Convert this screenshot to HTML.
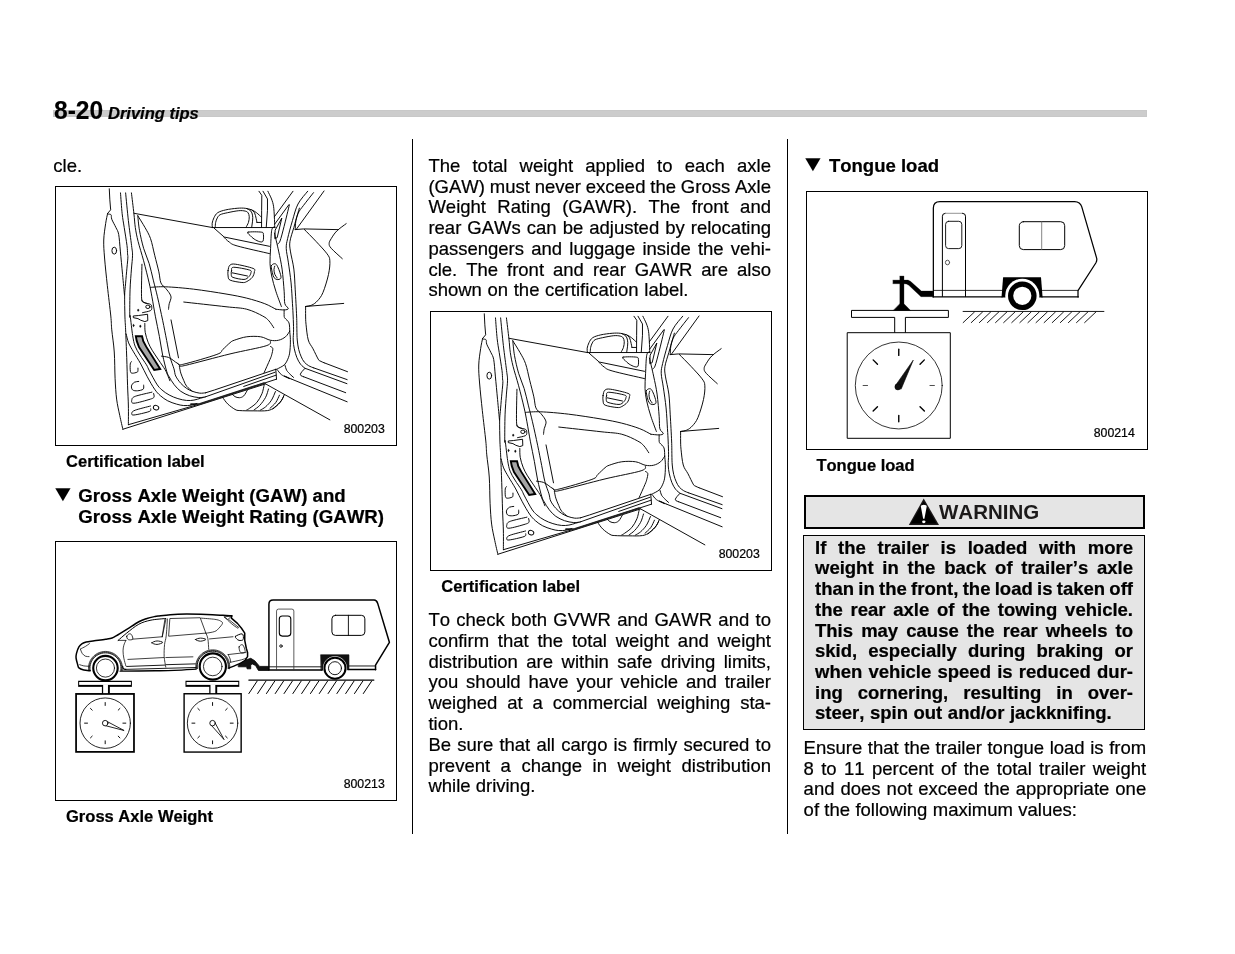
<!DOCTYPE html>
<html lang="en">
<head>
<meta charset="utf-8">
<title>8-20 Driving tips</title>
<style>
html,body{margin:0;padding:0;background:#fff;}
body{width:1235px;height:954px;position:relative;overflow:hidden;font-family:"Liberation Sans",sans-serif;color:#000;}
.t{position:absolute;white-space:nowrap;margin:0;padding:0;font-kerning:none;-webkit-text-stroke:0.22px #000;}
#pg{position:absolute;left:0;top:0;width:1235px;height:954px;overflow:hidden;will-change:transform;transform:translateZ(0);}
.fig{position:absolute;overflow:visible;}
.bar{position:absolute;left:53px;top:110px;width:1094px;height:7px;background:#ccc;box-sizing:border-box;border:1px solid #c8c8c8;}
.vr{position:absolute;top:139px;width:1px;height:695px;background:#000;}
.box{position:absolute;box-sizing:border-box;background:#e6e6e6;}
</style>
</head>
<body>
<div id="pg">
<div class="bar"></div>
<div class="t" style="left:53.50px;top:96.34px;font-size:26px;line-height:29.9px;height:29.9px;font-weight:bold;transform:scaleX(0.945);transform-origin:0 0;-webkit-text-stroke:0.15px #000;">8-20</div>
<div class="t" style="left:108.00px;top:104.00px;font-size:16.5px;line-height:18.97px;height:18.97px;font-weight:bold;font-style:italic;">Driving tips</div>
<div class="vr" style="left:412px"></div>
<div class="vr" style="left:787px"></div>
<div class="t" style="left:53.30px;top:154.75px;font-size:18.5px;line-height:21.27px;height:21.27px;">cle.</div>
<svg class="fig" style="left:55px;top:186px" width="342" height="260" viewBox="0 0 342 260" stroke-linecap="round" stroke-linejoin="round">
<path d="M54.28 2.77L54.83 13.85L55.66 23.82L52.62 27.42" fill="none" stroke="#000" stroke-width="0.95" />
<path d="M52.62 27.42C52.29 29.08 51.32 32.95 50.68 37.38C50.03 41.82 48.92 48.23 48.74 54.00C48.55 59.77 48.97 64.38 49.57 72.00C50.17 79.62 51.30 90.02 52.34 99.69C53.38 109.36 55.06 122.66 55.80 130.02C56.54 137.37 56.19 137.85 56.77 143.85C57.35 149.84 58.71 157.92 59.26 166.00C59.82 174.08 59.70 184.46 60.09 192.31C60.48 200.15 60.83 206.85 61.62 213.08C62.40 219.31 63.76 224.66 64.80 229.69C65.84 234.72 67.34 241.00 67.85 243.26" fill="none" stroke="#000" stroke-width="0.95" />
<path d="M67.85 243.26L210.59 197.89" fill="none" stroke="#000" stroke-width="0.95" />
<path d="M210.59 197.89L274.85 233.85" fill="none" stroke="#000" stroke-width="0.95" />
<path d="M53.03 28.11C53.54 28.22 55.45 27.95 56.08 28.80C56.70 29.65 55.96 31.11 56.77 33.23C57.58 35.35 59.77 39.00 60.92 41.54C62.08 44.08 62.95 44.54 63.69 48.46C64.43 52.38 64.71 58.38 65.35 65.08C66.00 71.77 66.88 81.23 67.57 88.62C68.26 96.00 69.18 105.92 69.51 109.38" fill="none" stroke="#000" stroke-width="0.95" />
<path d="M65.49 6.92C65.77 10.38 66.53 21.92 67.15 27.69C67.78 33.46 68.42 36.23 69.23 41.54C70.04 46.85 71.45 55.15 72.00 59.54C72.55 63.92 72.42 65.75 72.55 67.85C72.69 69.95 72.99 69.14 72.83 72.14C72.67 75.14 72.00 81.14 71.58 85.85C71.17 90.55 70.66 96.46 70.34 100.38C70.02 104.31 69.72 104.45 69.65 109.38C69.58 114.32 69.76 124.27 69.92 130.02C70.08 135.76 70.32 136.93 70.62 143.85C70.92 150.77 71.40 162.31 71.72 171.54C72.05 180.77 72.28 191.15 72.55 199.23C72.83 207.31 73.25 213.42 73.38 220.00C73.52 226.58 73.38 235.58 73.38 238.69" fill="none" stroke="#000" stroke-width="0.95" />
<path d="M73.38 238.69L145.00 217.93L209.13 197.16L221.52 193.15" fill="none" stroke="#000" stroke-width="0.95" />
<path d="M136.01 218.16L145.00 217.93L209.13 197.16" fill="none" stroke="#222" stroke-width="1.80" />
<path d="M70.62 6.92C71.08 11.54 72.39 25.85 73.38 34.62C74.38 43.38 75.88 53.77 76.57 59.54C77.26 65.31 77.56 65.31 77.54 69.23C77.52 73.15 76.85 77.31 76.43 83.08C76.02 88.85 75.32 96.02 75.05 103.85C74.77 111.67 74.74 125.62 74.77 130.02C74.80 134.41 74.76 126.93 75.24 130.19C75.73 133.46 76.86 144.63 77.67 149.63C78.48 154.62 78.89 156.91 80.10 160.15C81.32 163.39 83.07 165.96 84.96 169.06C86.85 172.16 89.85 176.13 91.44 178.78C93.02 181.42 92.75 181.72 94.47 184.93C96.19 188.14 99.70 194.89 101.76 198.05C103.83 201.21 104.80 202.06 106.86 203.88C108.93 205.70 111.48 207.52 114.15 208.98C116.82 210.44 119.98 211.71 122.90 212.62C125.81 213.54 128.97 214.20 131.64 214.45C134.31 214.69 136.62 214.45 138.93 214.08C141.24 213.72 143.54 212.81 145.49 212.26C147.43 211.71 149.74 211.05 150.59 210.80" fill="none" stroke="#000" stroke-width="0.95" />
<path d="M150.59 210.80L220.06 186.23" fill="none" stroke="#000" stroke-width="0.95" />
<path d="M71.19 148.01C71.60 149.49 72.41 153.95 73.62 156.91C74.84 159.88 76.46 162.31 78.48 165.82C80.51 169.33 83.47 173.81 85.77 177.97C88.07 182.12 89.99 186.56 92.29 190.76C94.59 194.96 97.39 199.99 99.58 203.15C101.76 206.31 103.22 207.77 105.41 209.71C107.59 211.65 110.02 213.41 112.69 214.81C115.36 216.21 118.77 217.30 121.44 218.09C124.11 218.88 126.30 219.37 128.73 219.55C131.15 219.73 133.83 219.51 136.01 219.18C138.20 218.85 140.87 217.85 141.84 217.58" fill="none" stroke="#000" stroke-width="0.95" />
<path d="M89.82 137.48C89.89 138.97 89.68 143.28 90.22 146.39C90.76 149.49 91.91 153.14 93.06 156.11C94.20 159.07 95.35 161.23 97.11 164.20C98.86 167.17 101.42 170.68 103.58 173.92C105.74 177.16 108.54 181.07 110.06 183.64C111.58 186.20 111.89 187.45 112.69 189.30C113.50 191.16 114.51 193.86 114.88 194.77" fill="none" stroke="#000" stroke-width="0.95" />
<path d="M76.43 6.92C76.85 10.38 78.28 21.92 78.92 27.69C79.57 33.46 79.62 36.92 80.31 41.54C81.00 46.15 81.69 49.85 83.08 55.38C84.46 60.92 86.77 67.85 88.62 74.77C90.46 81.69 92.77 90.92 94.15 96.92C95.54 102.92 95.89 105.22 96.92 110.77C97.96 116.31 99.10 123.58 100.34 130.19C101.59 136.81 103.18 143.96 104.39 150.44C105.61 156.91 106.42 163.26 107.63 169.06C108.85 174.86 110.59 181.64 111.68 185.26C112.77 188.87 112.89 188.51 114.15 190.76C115.41 193.02 117.31 196.35 119.25 198.78C121.19 201.21 123.26 203.51 125.81 205.34C128.36 207.16 131.64 208.68 134.56 209.71C137.47 210.74 140.87 211.29 143.30 211.53C145.73 211.77 148.16 211.23 149.13 211.17" fill="none" stroke="#000" stroke-width="0.95" />
<path d="M82.80 29.77C83.08 32.19 83.49 38.88 84.46 44.31C85.43 49.73 87.00 56.77 88.62 62.31C90.23 67.85 92.54 72.23 94.15 77.54C95.77 82.85 96.92 88.62 98.31 94.15C99.69 99.69 100.91 104.09 102.46 110.77C104.02 117.45 106.10 126.96 107.63 134.24C109.17 141.53 110.47 148.41 111.68 154.49C112.89 160.56 113.70 165.96 114.92 170.68C116.13 175.40 118.00 179.60 118.97 182.83C119.93 186.05 119.57 187.62 120.71 190.03C121.85 192.45 123.99 195.26 125.81 197.32C127.63 199.39 129.70 201.09 131.64 202.42C133.58 203.76 135.28 204.55 137.47 205.34C139.66 206.13 142.57 206.92 144.76 207.16C146.94 207.40 149.62 206.85 150.59 206.79" fill="none" stroke="#000" stroke-width="0.95" />
<path d="M150.59 206.79L159.58 203.94L220.79 183.31" fill="none" stroke="#000" stroke-width="0.95" />
<path d="M82.80 29.77C84.00 31.73 87.88 37.73 90.00 41.54C92.12 45.35 93.92 48.00 95.54 52.62C97.15 57.23 98.31 63.69 99.69 69.23C101.08 74.77 102.81 81.23 103.85 85.85C104.88 90.46 104.77 94.15 105.92 96.92C107.08 99.69 109.27 100.62 110.77 102.46C112.27 104.31 114.05 106.38 114.92 108.00C115.80 109.62 116.15 110.54 116.03 112.15C115.92 113.77 114.65 115.85 114.23 117.69C113.82 119.54 113.65 122.31 113.54 123.23" fill="none" stroke="#000" stroke-width="0.95" />
<path d="M78.92 27.28L157.41 41.54" fill="none" stroke="#000" stroke-width="0.95" />
<path d="M157.41 41.30C157.37 40.62 156.90 38.87 157.17 37.25C157.44 35.63 158.11 33.33 159.03 31.58C159.95 29.82 160.72 28.00 162.67 26.72C164.63 25.44 167.53 24.63 170.77 23.89C174.01 23.14 178.87 22.54 182.11 22.27C185.34 22.00 187.77 22.00 190.20 22.27C192.63 22.54 194.79 23.14 196.68 23.89C198.57 24.63 199.92 25.51 201.54 26.72C203.16 27.94 205.59 30.43 206.40 31.17" fill="none" stroke="#000" stroke-width="0.95" />
<path d="M160.24 41.30C160.31 40.49 160.31 37.99 160.65 36.44C160.99 34.89 161.52 33.27 162.27 31.98C163.01 30.70 163.41 29.62 165.10 28.74C166.79 27.87 169.28 27.40 172.39 26.72C175.49 26.05 180.76 24.97 183.72 24.70C186.69 24.43 188.65 24.76 190.20 25.10C191.75 25.44 192.36 25.78 193.04 26.72C193.71 27.67 194.18 29.15 194.25 30.77C194.32 32.39 193.98 34.68 193.44 36.44C192.90 38.19 191.42 40.49 191.01 41.30" fill="none" stroke="#000" stroke-width="0.95" />
<path d="M191.82 22.67C192.50 23.08 194.93 24.02 195.87 25.10C196.82 26.18 197.19 27.67 197.49 29.15C197.79 30.63 197.79 31.98 197.65 34.01C197.52 36.03 196.84 40.08 196.68 41.30" fill="none" stroke="#000" stroke-width="0.95" />
<path d="M196.68 23.89C197.15 24.36 198.77 25.30 199.51 26.72C200.26 28.14 200.73 30.77 201.13 32.39C201.54 34.01 201.81 35.76 201.94 36.44" fill="none" stroke="#000" stroke-width="0.95" />
<path d="M201.94 36.44L206.40 36.44" fill="none" stroke="#000" stroke-width="0.95" />
<path d="M157.41 41.54L220.16 41.54" fill="none" stroke="#000" stroke-width="0.95" />
<path d="M159.03 42.11L169.15 51.01L214.49 60.32" fill="none" stroke="#000" stroke-width="0.95" />
<path d="M169.15 51.42C169.96 52.16 171.85 54.45 174.01 55.87C176.17 57.29 175.36 57.96 182.11 59.92C188.85 61.88 209.10 66.33 214.49 67.61" fill="none" stroke="#000" stroke-width="0.95" />
<path d="M193.04 46.15C194.93 45.61 203.83 45.75 206.40 46.15C208.96 46.56 208.15 47.10 208.42 48.58C208.69 50.07 208.62 53.87 208.02 55.06C207.41 56.25 206.26 56.05 204.78 55.71C203.29 55.37 200.73 54.09 199.11 53.04C197.49 51.98 196.07 50.54 195.06 49.39C194.05 48.25 191.15 46.69 193.04 46.15Z" fill="none" stroke="#000" stroke-width="0.95" />
<path d="M173.08 84.46C173.38 82.66 173.61 80.24 174.88 79.20C176.15 78.16 176.84 77.70 180.69 78.23C184.55 78.76 194.88 81.12 198.00 82.38C201.12 83.65 199.50 84.35 199.38 85.85C199.27 87.35 198.58 89.77 197.31 91.38C196.04 93.00 193.50 94.68 191.77 95.54C190.04 96.39 189.69 96.74 186.92 96.51C184.15 96.28 177.46 95.24 175.15 94.15C172.85 93.07 173.42 91.62 173.08 90.00C172.73 88.38 172.78 86.26 173.08 84.46Z" fill="none" stroke="#000" stroke-width="0.95" />
<path d="M176.54 84.74C176.93 83.52 175.62 81.39 178.62 81.28C181.62 81.16 191.65 83.12 194.54 84.05C197.42 84.97 196.04 85.71 195.92 86.82C195.81 87.92 195.00 89.58 193.85 90.69C192.69 91.80 191.65 93.35 189.00 93.46C186.35 93.58 180.05 92.19 177.92 91.38C175.80 90.58 176.49 89.72 176.26 88.62C176.03 87.51 176.15 85.96 176.54 84.74Z" fill="none" stroke="#000" stroke-width="0.95" />
<path d="M177.23 86.82L192.46 90.00" fill="none" stroke="#000" stroke-width="0.95" />
<path d="M203.97 5.26L206.80 9.31L206.64 24.29L206.56 41.30" fill="none" stroke="#000" stroke-width="0.95" />
<path d="M208.02 5.26L212.47 12.96L212.47 24.29L211.26 41.30" fill="none" stroke="#000" stroke-width="0.95" />
<path d="M212.87 5.26C213.48 6.55 215.57 10.46 216.52 12.96C217.46 15.45 218.07 17.27 218.54 20.24C219.01 23.21 219.15 27.26 219.35 30.77C219.55 34.28 219.69 39.54 219.76 41.30" fill="none" stroke="#000" stroke-width="0.95" />
<path d="M237.98 5.26L219.35 30.77" fill="none" stroke="#000" stroke-width="0.95" />
<path d="M233.93 18.62L219.76 38.06" fill="none" stroke="#000" stroke-width="0.95" />
<path d="M234.33 19.03C233.45 22.60 230.62 34.48 229.07 40.49C227.52 46.49 226.10 52.16 225.02 55.06C223.94 57.96 223.00 57.42 222.59 57.89" fill="none" stroke="#000" stroke-width="0.95" />
<path d="M226.64 32.39L220.16 44.13L219.76 52.63L221.78 51.82Z" fill="none" stroke="#000" stroke-width="0.95" />
<path d="M219.46 40.85C219.00 41.42 217.34 40.73 216.69 44.31C216.05 47.88 215.86 56.77 215.58 62.31C215.31 67.85 214.85 72.92 215.03 77.54C215.22 82.15 215.72 85.38 216.69 90.00C217.66 94.62 219.23 100.15 220.85 105.23C222.46 110.31 225.46 117.92 226.38 120.46" fill="none" stroke="#000" stroke-width="0.95" />
<path d="M219.46 47.08C220.15 50.08 222.35 59.08 223.62 65.08C224.88 71.08 226.15 76.38 227.08 83.08C228.00 89.77 228.69 99.46 229.15 105.23C229.62 111.00 229.15 114.81 229.85 117.69C230.54 120.58 233.42 121.50 233.31 122.54C233.19 123.58 231.23 123.81 229.15 123.92C227.08 124.04 222.23 123.35 220.85 123.23" fill="none" stroke="#000" stroke-width="0.95" />
<path d="M95.54 101.35C98.08 101.26 103.62 100.50 110.77 100.80C117.92 101.10 128.42 101.95 138.46 103.15C148.50 104.35 162.12 106.50 171.00 108.00C179.89 109.50 185.31 110.54 191.77 112.15C198.23 113.77 204.92 115.85 209.77 117.69C214.62 119.54 219.00 122.31 220.85 123.23" fill="none" stroke="#000" stroke-width="0.95" />
<path d="M128.77 116.03C135.81 116.82 160.50 119.54 171.00 120.74C181.50 121.94 185.65 121.68 191.77 123.23C197.88 124.78 204.00 128.08 207.69 130.02C211.38 131.95 212.08 132.89 213.92 134.85C215.77 136.81 217.96 140.62 218.77 141.77" fill="none" stroke="#000" stroke-width="0.95" />
<path d="M216.54 79.38C216.97 78.71 218.16 77.90 218.97 77.77C219.78 77.63 220.59 77.63 221.40 78.57C222.21 79.52 223.08 81.54 223.83 83.43C224.57 85.32 225.58 88.36 225.85 89.91C226.12 91.46 226.05 92.14 225.45 92.74C224.84 93.35 223.29 93.76 222.21 93.55C221.13 93.35 219.78 92.68 218.97 91.53C218.16 90.38 217.78 88.29 217.35 86.67C216.92 85.05 216.51 83.03 216.38 81.81C216.24 80.60 216.11 80.06 216.54 79.38Z" fill="none" stroke="#000" stroke-width="0.95" />
<path d="M219.78 80.19C219.64 80.73 218.97 82.08 218.97 83.43C218.97 84.78 219.24 86.87 219.78 88.29C220.32 89.71 221.80 91.33 222.21 91.94" fill="none" stroke="#000" stroke-width="0.95" />
<path d="M229.15 123.92C229.15 124.94 229.04 128.66 229.15 130.02C229.27 131.37 229.04 130.93 229.85 132.08C230.65 133.23 233.19 134.73 234.00 136.92C234.81 139.12 234.58 143.85 234.69 145.23" fill="none" stroke="#000" stroke-width="0.95" />
<path d="M252.69 5.26C251.08 7.38 245.54 13.11 243.00 18.00C240.46 22.89 239.19 28.85 237.46 34.62C235.73 40.38 233.65 48.00 232.62 52.62C231.58 57.23 231.12 58.38 231.23 62.31C231.35 66.23 232.50 70.38 233.31 76.15C234.12 81.92 235.38 90.00 236.08 96.92C236.77 103.85 237.12 112.18 237.46 117.69C237.81 123.21 237.97 125.66 238.15 130.02C238.34 134.37 238.56 139.85 238.57 143.85C238.58 147.84 238.09 150.84 238.21 154.00C238.33 157.16 238.70 159.87 239.31 162.81C239.92 165.74 240.84 169.05 241.88 171.61C242.92 174.18 244.20 176.45 245.55 178.22C246.90 179.99 249.22 181.58 249.95 182.26" fill="none" stroke="#000" stroke-width="0.95" />
<path d="M249.95 182.26L291.94 197.67" fill="none" stroke="#000" stroke-width="0.95" />
<path d="M258.51 6.65C256.85 8.77 251.12 15.88 248.54 19.38C245.95 22.89 244.62 24.00 243.00 27.69C241.38 31.38 240.18 36.92 238.85 41.54C237.51 46.15 235.55 51.46 234.97 55.38C234.39 59.31 234.74 60.46 235.38 65.08C236.03 69.69 238.04 76.62 238.85 83.08C239.65 89.54 239.77 96.02 240.23 103.85C240.69 111.67 241.34 123.35 241.62 130.02C241.89 136.68 241.79 139.85 241.89 143.85C242.00 147.84 241.94 150.72 242.25 154.00C242.55 157.28 243.04 160.73 243.72 163.54C244.39 166.35 245.37 168.80 246.28 170.88C247.20 172.96 248.00 174.55 249.22 176.02C250.44 177.49 252.03 178.71 253.62 179.69C255.21 180.67 257.91 181.52 258.76 181.89" fill="none" stroke="#000" stroke-width="0.95" />
<path d="M258.76 181.89L292.16 193.63" fill="none" stroke="#000" stroke-width="0.95" />
<path d="M269.03 4.98L241.62 42.92" fill="none" stroke="#000" stroke-width="0.95" />
<path d="M244.38 22.15C243.81 24.23 241.62 31.04 240.92 34.62C240.23 38.19 240.35 42.12 240.23 43.62" fill="none" stroke="#000" stroke-width="0.95" />
<path d="M249.59 182.77C249.16 183.24 247.72 184.67 247.02 185.56C246.32 186.45 245.59 187.46 245.40 188.13C245.22 188.80 245.40 189.17 245.92 189.60C246.43 190.02 248.06 190.51 248.49 190.70" fill="none" stroke="#000" stroke-width="0.95" />
<path d="M248.49 190.70L290.69 206.70" fill="none" stroke="#000" stroke-width="0.95" />
<path d="M240.23 43.62L248.54 42.92L283.15 43.62" fill="none" stroke="#000" stroke-width="0.95" />
<path d="M249.23 43.34C251.19 45.35 257.19 51.30 261.00 55.38C264.81 59.47 269.77 64.62 272.08 67.85C274.38 71.08 274.62 71.31 274.85 74.77C275.08 78.23 274.62 83.31 273.46 88.62C272.31 93.92 269.77 102.23 267.92 106.62C266.08 111.00 264.23 112.85 262.38 114.92C260.54 117.00 258.81 118.15 256.85 119.08C254.88 120.00 251.65 120.23 250.62 120.46" fill="none" stroke="#000" stroke-width="0.95" />
<path d="M250.62 120.46L288.69 117.42" fill="none" stroke="#000" stroke-width="0.95" />
<path d="M250.62 120.46C250.62 122.05 250.55 127.04 250.62 130.02C250.68 132.99 250.59 134.31 251.03 138.31C251.47 142.31 252.09 149.92 253.26 154.00C254.42 158.08 256.38 159.63 258.03 162.81C259.68 165.99 262.00 171.06 263.17 173.08C264.33 175.10 264.02 174.31 265.00 174.92C265.98 175.53 268.36 176.45 269.04 176.75" fill="none" stroke="#000" stroke-width="0.95" />
<path d="M269.04 176.75L292.52 185.71" fill="none" stroke="#000" stroke-width="0.95" />
<path d="M291.18 37.66C289.62 38.88 284.26 42.51 281.77 45.00C279.28 47.49 277.50 50.54 276.23 52.62C274.96 54.69 274.15 55.85 274.15 57.46C274.15 59.08 274.04 59.77 276.23 62.31C278.42 64.85 285.46 70.96 287.31 72.69" fill="none" stroke="#000" stroke-width="0.95" />
<path d="M106.50 170.16C107.63 170.36 111.36 170.65 113.30 171.33C115.24 172.01 116.54 173.19 118.16 174.24C119.78 175.30 121.23 177.00 123.02 177.64C124.80 178.29 122.37 179.67 128.85 178.13C135.32 176.59 155.40 170.84 161.88 168.41C168.36 165.98 165.52 165.50 167.71 163.55C169.90 161.61 173.08 158.28 175.02 156.72C176.95 155.17 176.52 155.22 179.31 154.23C182.10 153.24 187.38 151.35 191.77 150.77C196.15 150.19 201.69 150.19 205.62 150.77C209.54 151.35 212.31 153.65 215.31 154.23C218.31 154.81 221.08 154.81 223.62 154.23C226.15 153.65 228.69 152.27 230.54 150.77C232.38 149.27 234.00 146.15 234.69 145.23" fill="none" stroke="#000" stroke-width="0.95" />
<path d="M123.02 177.64C123.34 177.97 123.66 179.31 124.96 179.59C126.25 179.86 122.45 181.24 130.79 179.30C139.13 177.35 161.61 171.18 175.00 167.93C188.39 164.67 204.44 161.94 211.15 159.77C217.87 157.60 214.62 155.73 215.31 154.92" fill="none" stroke="#000" stroke-width="0.95" />
<path d="M215.31 160.46C215.72 160.81 217.57 161.15 217.80 162.54C218.03 163.92 217.17 166.95 216.69 168.77C216.22 170.59 216.22 170.50 214.96 173.47C213.70 176.44 210.10 184.41 209.13 186.59" fill="none" stroke="#000" stroke-width="0.95" />
<path d="M234.69 145.23C234.81 146.62 235.33 150.41 235.38 153.54C235.44 156.67 235.31 161.04 235.00 164.00C234.69 166.96 234.45 168.86 233.54 171.29C232.63 173.72 231.42 176.63 229.54 178.58C227.65 180.52 223.71 182.16 222.25 182.95C220.79 183.74 221.03 183.25 220.79 183.31" fill="none" stroke="#000" stroke-width="0.95" />
<path d="M124.35 180.19C124.60 181.35 125.08 184.75 125.81 187.12C126.54 189.49 127.75 192.22 128.73 194.41C129.70 196.59 130.18 198.41 131.64 200.24C133.10 202.06 136.50 204.49 137.47 205.34" fill="none" stroke="#000" stroke-width="0.95" />
<path d="M116.02 133.92L123.50 171.81" fill="none" stroke="#000" stroke-width="0.95" />
<path d="M222.25 183.68C222.98 184.53 224.50 187.26 226.62 188.78C228.75 190.30 234.54 192.59 235.00 192.79C235.47 192.98 229.24 189.94 229.40 189.96C229.57 189.98 234.91 192.41 236.01 192.90" fill="none" stroke="#000" stroke-width="0.95" />
<path d="M236.01 192.90L292.16 215.80" fill="none" stroke="#000" stroke-width="0.95" />
<path d="M229.90 178.94C230.20 179.85 230.87 182.89 231.72 184.41C232.57 185.92 234.41 187.37 235.00 188.05C235.59 188.73 234.68 187.93 235.28 188.50C235.87 189.06 238.03 190.94 238.58 191.43" fill="none" stroke="#000" stroke-width="0.95" />
<path d="M220.79 183.31L221.52 193.15" fill="none" stroke="#000" stroke-width="0.95" />
<path d="M188.73 200.44L221.16 189.14" fill="none" stroke="#000" stroke-width="0.95" />
<path d="M167.59 211.37C168.44 212.46 170.63 215.92 172.69 217.93C174.76 219.93 177.95 222.29 179.98 223.39C182.01 224.50 181.73 224.33 184.85 224.57C187.96 224.81 194.08 224.85 198.69 224.85C203.31 224.85 209.08 225.15 212.54 224.57C216.00 223.99 217.15 223.07 219.46 221.38C221.77 219.70 224.77 216.54 226.38 214.46C228.00 212.38 228.69 209.85 229.15 208.92" fill="none" stroke="#000" stroke-width="0.95" />
<path d="M209.13 198.98C208.77 200.44 208.16 204.81 206.94 207.73C205.73 210.64 203.91 214.04 201.84 216.47C199.78 218.90 196.26 221.05 194.56 222.30C192.86 223.55 192.13 223.70 191.64 223.98" fill="none" stroke="#000" stroke-width="0.95" />
<path d="M213.50 202.99C213.02 204.39 212.05 208.64 210.59 211.37C209.13 214.10 206.70 217.28 204.76 219.39C202.81 221.49 199.90 223.21 198.93 223.98" fill="none" stroke="#000" stroke-width="0.95" />
<path d="M220.43 205.54C219.76 207.00 218.06 211.73 216.42 214.28C214.78 216.83 212.41 219.23 210.59 220.84C208.77 222.46 206.34 223.45 205.49 223.98" fill="none" stroke="#000" stroke-width="0.95" />
<path d="M224.43 209.18C223.83 210.40 222.37 214.28 220.79 216.47C219.21 218.66 215.93 221.33 214.96 222.30" fill="none" stroke="#000" stroke-width="0.95" />
<path d="M228.81 209.91C228.20 211.00 226.99 214.28 225.16 216.47C223.34 218.66 219.09 221.94 217.88 223.03" fill="none" stroke="#000" stroke-width="0.95" />
<path d="M177.07 208.09C177.55 208.51 178.77 210.03 179.98 210.64C181.19 211.25 182.90 211.86 184.35 211.73C185.81 211.61 187.39 211.19 188.73 209.91C190.06 208.64 191.76 205.05 192.37 204.08" fill="none" stroke="#000" stroke-width="0.95" />
<path d="M78.64 129.95L83.34 129.55L92.57 128.25L92.81 134.57L89.82 135.62L85.77 134.24L82.94 132.62L78.72 131.73Z" fill="none" stroke="#000" stroke-width="0.95" />
<path d="M86.95 78.23C86.88 83.65 86.26 104.42 86.54 110.77C86.82 117.12 87.12 115.04 88.62 116.31C90.11 117.58 94.16 117.46 95.52 118.37C96.88 119.28 96.81 120.72 96.78 121.77C96.75 122.83 96.86 123.88 95.32 124.69C93.79 125.50 88.85 126.31 87.55 126.63" fill="none" stroke="#000" stroke-width="0.95" />
<path d="M87.06 114.00C87.23 114.32 87.23 115.38 88.04 115.94C88.85 116.51 91.28 117.16 91.92 117.40" fill="none" stroke="#000" stroke-width="0.95" />
<ellipse cx="92.89" cy="120.80" rx="2.14" ry="1.75" fill="none" stroke="#000" stroke-width="0.95"/>
<ellipse cx="83.18" cy="124.20" rx="0.68" ry="1.17" fill="#111" stroke="#000" stroke-width="0.30"/>
<ellipse cx="78.51" cy="139.46" rx="0.68" ry="1.17" fill="#111" stroke="#000" stroke-width="0.30"/>
<ellipse cx="85.32" cy="140.23" rx="0.68" ry="1.17" fill="#111" stroke="#000" stroke-width="0.30"/>
<ellipse cx="59.26" cy="64.66" rx="2.35" ry="3.46" fill="none" stroke="#000" stroke-width="0.95"/>
<path d="M76.46 175.63C76.26 176.03 75.42 176.44 75.24 178.06C75.07 179.68 75.07 183.82 75.40 185.34C75.74 186.87 76.15 187.07 77.27 187.21C78.39 187.34 81.18 186.60 82.13 186.15C83.07 185.71 82.80 185.21 82.94 184.53C83.07 183.86 82.94 182.51 82.94 182.11" fill="none" stroke="#000" stroke-width="0.95" />
<path d="M83.74 195.47C83.00 195.60 80.51 195.53 79.29 196.28C78.08 197.02 76.73 198.64 76.46 199.92C76.19 201.20 76.66 203.16 77.67 203.97C78.68 204.78 80.78 204.91 82.53 204.78C84.28 204.64 87.19 204.10 88.20 203.16C89.21 202.21 88.54 199.78 88.60 199.11" fill="none" stroke="#000" stroke-width="0.95" />
<path d="M96.92 206.15C94.15 206.85 83.65 209.04 80.31 210.31C76.96 211.58 77.08 212.62 76.85 213.77C76.62 214.92 75.81 217.35 78.92 217.23C82.04 217.12 92.19 214.12 95.54 213.08C98.88 212.04 98.49 211.92 99.00 211.00C99.51 210.08 98.65 208.12 98.58 207.54" fill="none" stroke="#000" stroke-width="0.95" />
<path d="M95.54 220.00C93.00 220.69 83.42 223.00 80.31 224.15C77.19 225.31 77.08 226.12 76.85 226.92C76.62 227.73 76.04 229.23 78.92 229.00C81.81 228.77 91.38 226.58 94.15 225.54C96.92 224.50 95.31 223.23 95.54 222.77" fill="none" stroke="#000" stroke-width="0.95" />
<ellipse cx="101.08" cy="221.66" rx="2.77" ry="2.22" fill="none" stroke="#000" stroke-width="0.95" transform="rotate(20 101.08 221.66)"/>
<path d="M80.83 150.19L87.06 150.19L88.28 155.13L91.19 160.64L105.20 182.99L99.21 183.96L83.99 161.13L81.72 154.89Z" fill="#a6a6a6" stroke="#000" stroke-width="1.90" stroke-linejoin="miter"/>
<text x="288.69" y="247.28" font-size="12.3" fill="#000" stroke="#000" stroke-width="0.22" style="font-kerning:none" font-family="'Liberation Sans',sans-serif">800203</text>
<rect x="0.5" y="0.5" width="341" height="259" fill="none" stroke="#000" stroke-width="1" shape-rendering="crispEdges"/>
</svg>
<div class="t" style="left:66.00px;top:452.05px;font-size:16.55px;line-height:19.03px;height:19.03px;font-weight:bold;">Certification label</div>
<div class="t" style="left:50.00px;top:481.27px;font-size:22.5px;line-height:25.87px;height:25.87px;-webkit-text-stroke:0;transform:scaleX(1.16);transform-origin:0 0;">&#9660;</div>
<div class="t" style="left:78.30px;top:485.20px;font-size:18.66px;line-height:21.46px;height:21.46px;font-weight:bold;">Gross Axle Weight (GAW) and</div>
<div class="t" style="left:78.30px;top:506.10px;font-size:18.66px;line-height:21.46px;height:21.46px;font-weight:bold;">Gross Axle Weight Rating (GAWR)</div>
<svg class="fig" style="left:55px;top:541px" width="342" height="260" viewBox="0 0 342 260" stroke-linecap="round" stroke-linejoin="round">
<path d="M33.63 129.40C33.61 128.72 33.41 126.68 33.55 125.34C33.70 124.00 34.02 122.64 34.49 121.38C34.96 120.12 35.60 118.88 36.37 117.76C37.14 116.65 38.07 115.60 39.09 114.70C40.11 113.80 41.27 113.00 42.48 112.37C43.69 111.74 45.02 111.24 46.35 110.91C47.68 110.59 49.09 110.42 50.47 110.42C51.84 110.42 53.25 110.59 54.58 110.91C55.91 111.24 57.24 111.74 58.45 112.37C59.66 113.00 60.82 113.80 61.84 114.70C62.86 115.60 63.80 116.65 64.56 117.76C65.33 118.88 65.98 120.12 66.44 121.38C66.91 122.64 67.23 124.00 67.38 125.34C67.52 126.68 67.32 128.72 67.30 129.40" fill="none" stroke="#000" stroke-width="0.70" />
<path d="M34.35 129.30C34.34 128.65 34.14 126.69 34.28 125.41C34.42 124.13 34.72 122.83 35.17 121.63C35.62 120.42 36.24 119.23 36.97 118.16C37.71 117.10 38.60 116.09 39.58 115.23C40.55 114.37 41.67 113.60 42.82 113.00C43.98 112.39 45.25 111.92 46.53 111.60C47.80 111.29 49.15 111.13 50.47 111.13C51.78 111.13 53.13 111.29 54.40 111.60C55.68 111.92 56.95 112.39 58.11 113.00C59.27 113.60 60.38 114.37 61.36 115.23C62.33 116.09 63.22 117.10 63.96 118.16C64.69 119.23 65.31 120.42 65.76 121.63C66.21 122.83 66.51 124.13 66.65 125.41C66.79 126.69 66.59 128.65 66.58 129.30" fill="none" stroke="#000" stroke-width="0.70" />
<path d="M35.07 129.20C35.06 128.58 34.87 126.71 35.00 125.49C35.14 124.27 35.43 123.02 35.86 121.87C36.29 120.72 36.88 119.58 37.58 118.56C38.28 117.54 39.13 116.58 40.06 115.76C40.99 114.94 42.06 114.21 43.17 113.63C44.27 113.05 45.49 112.60 46.70 112.30C47.92 112.00 49.21 111.85 50.47 111.85C51.72 111.85 53.01 112.00 54.23 112.30C55.44 112.60 56.66 113.05 57.76 113.63C58.87 114.21 59.94 114.94 60.87 115.76C61.80 116.58 62.65 117.54 63.35 118.56C64.06 119.58 64.65 120.72 65.07 121.87C65.50 123.02 65.80 124.27 65.93 125.49C66.06 126.71 65.87 128.58 65.86 129.20" fill="none" stroke="#000" stroke-width="0.90" />
<path d="M140.91 127.78C140.90 127.10 140.70 125.06 140.84 123.72C140.99 122.38 141.31 121.02 141.77 119.76C142.24 118.50 142.89 117.26 143.66 116.14C144.42 115.03 145.36 113.98 146.38 113.08C147.39 112.18 148.56 111.38 149.77 110.75C150.98 110.12 152.31 109.62 153.64 109.29C154.97 108.97 156.38 108.80 157.75 108.80C159.12 108.80 160.54 108.97 161.87 109.29C163.20 109.62 164.53 110.12 165.74 110.75C166.95 111.38 168.11 112.18 169.13 113.08C170.15 113.98 171.08 115.03 171.85 116.14C172.62 117.26 173.26 118.50 173.73 119.76C174.20 121.02 174.52 122.38 174.66 123.72C174.81 125.06 174.60 127.10 174.59 127.78" fill="none" stroke="#000" stroke-width="0.70" />
<path d="M141.64 127.68C141.62 127.03 141.43 125.07 141.57 123.79C141.70 122.52 142.01 121.22 142.46 120.01C142.91 118.80 143.53 117.61 144.26 116.54C144.99 115.48 145.89 114.47 146.86 113.61C147.84 112.75 148.95 111.98 150.11 111.38C151.27 110.77 152.54 110.30 153.82 109.99C155.09 109.67 156.44 109.51 157.75 109.51C159.07 109.51 160.42 109.67 161.69 109.99C162.96 110.30 164.24 110.77 165.39 111.38C166.55 111.98 167.67 112.75 168.64 113.61C169.62 114.47 170.51 115.48 171.25 116.54C171.98 117.61 172.60 118.80 173.05 120.01C173.50 121.22 173.80 122.52 173.94 123.79C174.08 125.07 173.88 127.03 173.87 127.68" fill="none" stroke="#000" stroke-width="0.70" />
<path d="M142.36 127.58C142.35 126.96 142.16 125.09 142.29 123.87C142.42 122.65 142.72 121.41 143.14 120.25C143.57 119.10 144.16 117.96 144.86 116.94C145.57 115.92 146.42 114.96 147.35 114.14C148.28 113.32 149.35 112.59 150.45 112.01C151.56 111.43 152.78 110.98 153.99 110.68C155.21 110.38 156.50 110.23 157.75 110.23C159.01 110.23 160.30 110.38 161.51 110.68C162.73 110.98 163.94 111.43 165.05 112.01C166.16 112.59 167.22 113.32 168.16 114.14C169.09 114.96 169.94 115.92 170.64 116.94C171.34 117.96 171.93 119.10 172.36 120.25C172.79 121.41 173.08 122.65 173.21 123.87C173.35 125.09 173.16 126.96 173.15 127.58" fill="none" stroke="#000" stroke-width="0.90" />
<ellipse cx="50.47" cy="127.08" rx="12.23" ry="12.23" fill="#fff" stroke="#000" stroke-width="2.10"/>
<ellipse cx="50.47" cy="127.08" rx="9.07" ry="9.07" fill="none" stroke="#000" stroke-width="0.80"/>
<ellipse cx="157.83" cy="125.46" rx="13.12" ry="13.12" fill="#fff" stroke="#000" stroke-width="2.10"/>
<ellipse cx="157.75" cy="125.46" rx="9.31" ry="9.31" fill="none" stroke="#000" stroke-width="0.80"/>
<path d="M35.24 129.75C34.16 129.62 30.65 129.42 28.77 128.94C26.88 128.47 24.92 127.80 23.91 126.92C22.89 126.04 23.16 125.30 22.69 123.68C22.22 122.06 21.28 119.09 21.07 117.20C20.87 115.31 21.01 114.23 21.48 112.34C21.95 110.45 22.96 107.49 23.91 105.87C24.85 104.25 25.93 103.44 27.15 102.63C28.36 101.82 29.17 101.48 31.19 101.01C33.22 100.54 36.05 100.27 39.29 99.79C42.53 99.32 47.66 98.65 50.63 98.17C53.60 97.70 55.35 97.50 57.11 96.96C58.86 96.42 58.72 96.35 61.15 94.94C63.58 93.52 67.90 90.82 71.68 88.46C75.46 86.10 80.45 82.59 83.83 80.77C87.20 78.94 89.22 78.40 91.92 77.53C94.62 76.65 98.16 75.91 100.02 75.50C101.88 75.10 100.56 75.41 103.10 75.10C105.63 74.79 110.52 73.98 115.24 73.64C119.97 73.30 125.36 73.10 131.44 73.07C137.51 73.05 145.61 73.28 151.68 73.48C157.75 73.68 163.69 74.06 167.87 74.29C172.06 74.52 175.30 74.76 176.78 74.85" fill="none" stroke="#000" stroke-width="1.50" />
<path d="M176.78 74.85L176.38 77.12L182.45 82.38L186.50 87.24L189.74 92.10L189.74 99.39L191.36 107.49L192.57 111.53L192.57 115.58L190.55 118.42" fill="none" stroke="#000" stroke-width="1.50" />
<path d="M24.72 123.68C25.39 123.88 27.15 124.62 28.77 124.89C30.38 125.16 33.49 125.23 34.43 125.30" fill="none" stroke="#000" stroke-width="0.75" />
<path d="M25.53 107.89C26.34 107.49 28.90 106.34 30.38 105.46C31.87 104.58 33.76 103.10 34.43 102.63" fill="none" stroke="#000" stroke-width="0.75" />
<path d="M25.53 108.30C25.80 108.97 26.34 111.20 27.15 112.34C27.96 113.49 29.24 114.64 30.38 115.18C31.53 115.72 33.42 115.52 34.03 115.58" fill="none" stroke="#000" stroke-width="0.75" />
<path d="M67.63 125.30C67.77 125.70 67.90 127.22 68.44 127.73C68.98 128.24 70.47 128.27 70.87 128.38" fill="none" stroke="#000" stroke-width="1.20" />
<path d="M65.20 130.16C71.01 130.09 91.01 129.89 100.02 129.75C109.04 129.62 112.44 129.62 119.29 129.35C126.15 129.08 137.51 128.34 141.15 128.13" fill="none" stroke="#000" stroke-width="1.40" />
<path d="M70.87 128.38L141.15 126.51" fill="none" stroke="#000" stroke-width="0.90" />
<path d="M71.68 125.46L109.98 124.09" fill="none" stroke="#000" stroke-width="0.90" />
<path d="M111.19 123.68L140.34 122.87" fill="none" stroke="#000" stroke-width="0.90" />
<path d="M63.18 99.39C64.60 98.17 68.24 94.80 71.68 92.10C75.12 89.40 79.78 85.35 83.83 83.19C87.87 81.04 91.52 80.09 95.97 79.15C100.43 78.20 108.12 77.80 110.55 77.53" fill="none" stroke="#000" stroke-width="1.00" />
<path d="M63.18 99.39L70.87 99.39" fill="none" stroke="#000" stroke-width="0.75" />
<path d="M77.75 98.17L107.31 95.74" fill="none" stroke="#000" stroke-width="0.75" />
<path d="M107.31 95.74L110.95 77.93" fill="none" stroke="#000" stroke-width="0.75" />
<path d="M71.68 95.34C71.82 94.40 73.30 93.18 74.11 92.91C74.92 92.64 75.93 92.84 76.54 93.72C77.15 94.60 78.29 97.36 77.75 98.17C77.21 98.98 74.31 99.05 73.30 98.58C72.29 98.11 71.55 96.28 71.68 95.34Z" fill="none" stroke="#000" stroke-width="0.80" />
<path d="M70.87 99.39C70.53 100.20 69.32 102.49 68.85 104.25C68.37 106.00 68.04 107.76 68.04 109.91C68.04 112.07 68.37 114.71 68.85 117.20C69.32 119.70 70.53 123.61 70.87 124.89" fill="none" stroke="#000" stroke-width="0.75" />
<path d="M96.78 101.82C96.78 101.24 100.22 100.02 102.04 99.96C103.87 99.89 107.71 100.83 107.71 101.41C107.71 101.99 103.87 103.37 102.04 103.44C100.22 103.50 96.78 102.40 96.78 101.82Z" fill="none" stroke="#000" stroke-width="0.90" />
<path d="M72.89 118.42L108.77 116.55" fill="none" stroke="#000" stroke-width="0.75" />
<path d="M112.41 77.93C112.21 80.77 111.67 90.68 111.19 94.94C110.72 99.19 109.91 100.00 109.57 103.44C109.24 106.88 108.97 111.80 109.17 115.58C109.37 119.36 110.52 124.35 110.79 126.11" fill="none" stroke="#000" stroke-width="0.75" />
<path d="M109.98 77.93L107.15 95.74" fill="none" stroke="#000" stroke-width="0.75" />
<path d="M115.24 77.53L145.20 76.72L150.87 92.10L114.03 95.18Z" fill="none" stroke="#000" stroke-width="0.75" />
<path d="M146.01 77.12C148.31 77.32 156.54 77.86 159.78 78.34C163.02 78.81 164.16 79.28 165.45 79.96C166.73 80.63 167.74 81.17 167.47 82.38C167.20 83.60 165.11 85.89 163.83 87.24C162.54 88.59 161.94 89.65 159.78 90.48C157.62 91.32 152.35 91.97 150.87 92.26" fill="none" stroke="#000" stroke-width="0.75" />
<path d="M150.87 92.10C151.21 93.05 152.42 95.07 152.89 97.77C153.37 100.47 153.57 106.54 153.70 108.30" fill="none" stroke="#000" stroke-width="0.75" />
<path d="M154.51 97.93L178.00 95.74" fill="none" stroke="#000" stroke-width="0.75" />
<path d="M140.34 98.58C140.34 98.07 143.85 97.15 145.61 97.12C147.36 97.09 150.87 97.90 150.87 98.42C150.87 98.93 147.36 100.17 145.61 100.20C143.85 100.23 140.34 99.09 140.34 98.58Z" fill="none" stroke="#000" stroke-width="0.90" />
<path d="M110.79 116.55L137.91 115.83" fill="none" stroke="#000" stroke-width="0.75" />
<path d="M169.49 75.91L176.78 74.85L173.14 78.34Z" fill="none" stroke="#000" stroke-width="0.75" />
<path d="M169.49 75.91C170.30 76.72 172.73 79.28 174.35 80.77C175.97 82.25 177.79 83.73 179.21 84.81C180.63 85.89 182.25 86.84 182.85 87.24" fill="none" stroke="#000" stroke-width="0.75" />
<path d="M173.95 78.74L183.66 86.43" fill="none" stroke="#000" stroke-width="0.75" />
<path d="M180.43 95.34C181.37 94.53 186.03 92.37 187.31 92.91C188.59 93.45 188.66 97.50 188.12 98.58C187.58 99.66 185.15 99.52 184.07 99.39C182.99 99.25 182.25 98.44 181.64 97.77C181.03 97.09 179.48 96.15 180.43 95.34Z" fill="none" stroke="#000" stroke-width="1.00" />
<path d="M184.07 105.87C184.41 104.58 186.70 103.03 187.71 103.84C188.72 104.65 190.48 109.44 190.14 110.72C189.80 112.01 186.70 112.34 185.69 111.53C184.68 110.72 183.73 107.15 184.07 105.87Z" fill="none" stroke="#000" stroke-width="0.75" />
<path d="M173.14 113.56L190.95 111.53" fill="none" stroke="#000" stroke-width="0.75" />
<path d="M175.57 121.25C177.39 120.85 183.93 119.50 186.50 118.82C189.06 118.15 190.21 117.47 190.95 117.20" fill="none" stroke="#000" stroke-width="0.75" />
<path d="M173.95 126.92C175.63 126.24 181.23 124.22 184.07 122.87C186.90 121.52 189.80 119.50 190.95 118.82" fill="none" stroke="#000" stroke-width="1.40" />
<path d="M173.14 113.56C173.48 114.30 174.76 116.73 175.16 118.01C175.57 119.29 175.50 120.71 175.57 121.25" fill="none" stroke="#000" stroke-width="0.75" />
<path d="M183.58 123.78L190.87 118.92L195.73 117.30L199.78 119.73L204.64 125.40L213.54 125.40L213.54 129.45L203.42 129.45L200.59 124.59L197.35 122.97L195.73 123.78L195.73 127.83L192.09 127.83L191.68 125.80L183.58 125.80Z" fill="#111" stroke="#000" stroke-width="0.80" />
<path d="M213.92 129.00L213.92 63.23Q213.92 59.08 218.08 59.08L319.15 59.08Q321.62 59.08 322.62 62.15L334.39 101.31L320.54 124.15L320.54 128.72" fill="none" stroke="#000" stroke-width="1.5"/>
<path d="M213.92 129.00L266.54 129.00" fill="none" stroke="#000" stroke-width="1.50" />
<path d="M293.54 128.45L320.54 128.45" fill="none" stroke="#000" stroke-width="1.50" />
<path d="M213.92 125.82L266.54 125.82" fill="none" stroke="#000" stroke-width="0.90" />
<path d="M293.54 124.98L320.54 124.98" fill="none" stroke="#000" stroke-width="0.90" />
<path d="M265.85 113.77L293.95 113.77L293.95 128.72L266.26 129.28Z" fill="#111" stroke="#000" stroke-width="0.60" />
<ellipse cx="279.97" cy="127.20" rx="11.91" ry="11.91" fill="#fff" stroke="#fff" stroke-width="0.10"/>
<ellipse cx="279.97" cy="127.20" rx="10.52" ry="10.52" fill="#fff" stroke="#000" stroke-width="2.00"/>
<ellipse cx="279.97" cy="127.20" rx="6.51" ry="6.51" fill="none" stroke="#000" stroke-width="0.90"/>
<path d="M221.54 129.00V70.08Q221.54 68.08 223.54 68.08H236.85Q238.85 68.08 238.85 70.08V129.00" fill="none" stroke="#333" stroke-width="0.8"/>
<rect x="224.31" y="75.00" width="11.49" height="20.08" rx="3" fill="none" stroke="#000" stroke-width="1.1"/>
<ellipse cx="225.97" cy="105.05" rx="1.25" ry="1.25" fill="none" stroke="#000" stroke-width="0.90"/>
<rect x="276.92" y="74.31" width="32.95" height="20.08" rx="3.5" fill="none" stroke="#000" stroke-width="1"/>
<path d="M293.40 74.31L293.40 94.38" fill="none" stroke="#000" stroke-width="0.90" />
<path d="M193.85 139.11L318.88 139.11" fill="none" stroke="#000" stroke-width="1.20" />
<path d="M202.15 140.08L193.85 152.54" fill="none" stroke="#000" stroke-width="1.00" />
<path d="M210.96 140.08L202.65 152.54" fill="none" stroke="#000" stroke-width="1.00" />
<path d="M219.77 140.08L211.46 152.54" fill="none" stroke="#000" stroke-width="1.00" />
<path d="M228.57 140.08L220.26 152.54" fill="none" stroke="#000" stroke-width="1.00" />
<path d="M237.38 140.08L229.07 152.54" fill="none" stroke="#000" stroke-width="1.00" />
<path d="M246.18 140.08L237.88 152.54" fill="none" stroke="#000" stroke-width="1.00" />
<path d="M254.99 140.08L246.68 152.54" fill="none" stroke="#000" stroke-width="1.00" />
<path d="M263.80 140.08L255.49 152.54" fill="none" stroke="#000" stroke-width="1.00" />
<path d="M272.60 140.08L264.30 152.54" fill="none" stroke="#000" stroke-width="1.00" />
<path d="M281.41 140.08L273.10 152.54" fill="none" stroke="#000" stroke-width="1.00" />
<path d="M290.22 140.08L281.91 152.54" fill="none" stroke="#000" stroke-width="1.00" />
<path d="M299.02 140.08L290.71 152.54" fill="none" stroke="#000" stroke-width="1.00" />
<path d="M307.83 140.08L299.52 152.54" fill="none" stroke="#000" stroke-width="1.00" />
<path d="M316.63 140.08L308.33 152.54" fill="none" stroke="#000" stroke-width="1.00" />
<rect x="23.14" y="139.75" width="53.76" height="6.10" fill="#000"/>
<rect x="24.15" y="141.00" width="51.75" height="2.90" fill="#fff"/>
<rect x="20.20" y="152.03" width="59.65" height="59.73" fill="#000"/>
<rect x="21.95" y="153.83" width="56.15" height="56.18" fill="#fff"/>
<rect x="46.90" y="144.20" width="7.95" height="8.80" fill="#000"/>
<rect x="48.15" y="143.50" width="4.80" height="8.60" fill="#fff"/>
<circle cx="50.20" cy="182.15" r="25.2" fill="none" stroke="#000" stroke-width="0.85"/>
<path d="M50.20 164.85L50.20 161.15M62.93 169.42L65.19 167.16M67.50 182.15L71.20 182.15M62.93 194.88L65.19 197.14M50.20 199.45L50.20 203.15M37.47 194.88L35.21 197.14M32.90 182.15L29.20 182.15M37.47 169.42L35.21 167.16" fill="none" stroke="#000" stroke-width="0.95" stroke-linecap="butt"/>
<path d="M50.61 184.68L69.10 189.50L52.21 180.56" fill="none" stroke="#000" stroke-width="0.85" stroke-linejoin="round"/>
<circle cx="50.20" cy="182.15" r="2.75" fill="#fff" stroke="#000" stroke-width="0.9"/>
<rect x="130.49" y="139.75" width="53.76" height="6.10" fill="#000"/>
<rect x="131.50" y="141.00" width="51.75" height="2.90" fill="#fff"/>
<rect x="128.40" y="152.03" width="58.45" height="59.73" fill="#000"/>
<rect x="129.80" y="153.48" width="55.65" height="56.88" fill="#fff"/>
<rect x="154.25" y="144.20" width="7.95" height="8.80" fill="#000"/>
<rect x="155.50" y="143.50" width="4.80" height="8.60" fill="#fff"/>
<circle cx="157.55" cy="182.15" r="25.2" fill="none" stroke="#000" stroke-width="0.85"/>
<path d="M157.55 164.85L157.55 161.15M170.28 169.42L172.54 167.16M174.85 182.15L178.55 182.15M170.28 194.88L172.54 197.14M157.55 199.45L157.55 203.15M144.82 194.88L142.56 197.14M140.25 182.15L136.55 182.15M144.82 169.42L142.56 167.16" fill="none" stroke="#000" stroke-width="0.95" stroke-linecap="butt"/>
<path d="M156.48 184.48L169.05 198.60L160.11 181.95" fill="none" stroke="#000" stroke-width="0.85" stroke-linejoin="round"/>
<circle cx="157.55" cy="182.15" r="2.75" fill="#fff" stroke="#000" stroke-width="0.9"/>
<text x="288.7" y="247.2" font-size="12.3" fill="#000" stroke="#000" stroke-width="0.22" style="font-kerning:none" font-family="'Liberation Sans',sans-serif">800213</text>
<rect x="0.5" y="0.5" width="341" height="259" fill="none" stroke="#000" stroke-width="1" shape-rendering="crispEdges"/>
</svg>
<div class="t" style="left:66.00px;top:806.55px;font-size:16.55px;line-height:19.03px;height:19.03px;font-weight:bold;">Gross Axle Weight</div>
<div class="t" style="left:428.40px;top:155.05px;font-size:18.5px;line-height:21.27px;height:21.27px;width:342.60px;text-align:justify;text-align-last:justify;">The total weight applied to each axle</div>
<div class="t" style="left:428.40px;top:175.77px;font-size:18.5px;line-height:21.27px;height:21.27px;width:342.60px;text-align:justify;text-align-last:justify;word-spacing:-0.303px;text-align:left;text-align-last:left;">(GAW) must never exceed the Gross Axle</div>
<div class="t" style="left:428.40px;top:196.49px;font-size:18.5px;line-height:21.27px;height:21.27px;width:342.60px;text-align:justify;text-align-last:justify;">Weight Rating (GAWR). The front and</div>
<div class="t" style="left:428.40px;top:217.21px;font-size:18.5px;line-height:21.27px;height:21.27px;width:342.60px;text-align:justify;text-align-last:justify;">rear GAWs can be adjusted by relocating</div>
<div class="t" style="left:428.40px;top:237.93px;font-size:18.5px;line-height:21.27px;height:21.27px;width:342.60px;text-align:justify;text-align-last:justify;">passengers and luggage inside the vehi-</div>
<div class="t" style="left:428.40px;top:258.65px;font-size:18.5px;line-height:21.27px;height:21.27px;width:342.60px;text-align:justify;text-align-last:justify;">cle. The front and rear GAWR are also</div>
<div class="t" style="left:428.40px;top:279.37px;font-size:18.5px;line-height:21.27px;height:21.27px;width:260.12px;text-align:justify;text-align-last:justify;">shown on the certification label.</div>
<svg class="fig" style="left:430px;top:311px" width="342" height="260" viewBox="0 0 342 260" stroke-linecap="round" stroke-linejoin="round">
<path d="M54.28 2.77L54.83 13.85L55.66 23.82L52.62 27.42" fill="none" stroke="#000" stroke-width="0.95" />
<path d="M52.62 27.42C52.29 29.08 51.32 32.95 50.68 37.38C50.03 41.82 48.92 48.23 48.74 54.00C48.55 59.77 48.97 64.38 49.57 72.00C50.17 79.62 51.30 90.02 52.34 99.69C53.38 109.36 55.06 122.66 55.80 130.02C56.54 137.37 56.19 137.85 56.77 143.85C57.35 149.84 58.71 157.92 59.26 166.00C59.82 174.08 59.70 184.46 60.09 192.31C60.48 200.15 60.83 206.85 61.62 213.08C62.40 219.31 63.76 224.66 64.80 229.69C65.84 234.72 67.34 241.00 67.85 243.26" fill="none" stroke="#000" stroke-width="0.95" />
<path d="M67.85 243.26L210.59 197.89" fill="none" stroke="#000" stroke-width="0.95" />
<path d="M210.59 197.89L274.85 233.85" fill="none" stroke="#000" stroke-width="0.95" />
<path d="M53.03 28.11C53.54 28.22 55.45 27.95 56.08 28.80C56.70 29.65 55.96 31.11 56.77 33.23C57.58 35.35 59.77 39.00 60.92 41.54C62.08 44.08 62.95 44.54 63.69 48.46C64.43 52.38 64.71 58.38 65.35 65.08C66.00 71.77 66.88 81.23 67.57 88.62C68.26 96.00 69.18 105.92 69.51 109.38" fill="none" stroke="#000" stroke-width="0.95" />
<path d="M65.49 6.92C65.77 10.38 66.53 21.92 67.15 27.69C67.78 33.46 68.42 36.23 69.23 41.54C70.04 46.85 71.45 55.15 72.00 59.54C72.55 63.92 72.42 65.75 72.55 67.85C72.69 69.95 72.99 69.14 72.83 72.14C72.67 75.14 72.00 81.14 71.58 85.85C71.17 90.55 70.66 96.46 70.34 100.38C70.02 104.31 69.72 104.45 69.65 109.38C69.58 114.32 69.76 124.27 69.92 130.02C70.08 135.76 70.32 136.93 70.62 143.85C70.92 150.77 71.40 162.31 71.72 171.54C72.05 180.77 72.28 191.15 72.55 199.23C72.83 207.31 73.25 213.42 73.38 220.00C73.52 226.58 73.38 235.58 73.38 238.69" fill="none" stroke="#000" stroke-width="0.95" />
<path d="M73.38 238.69L145.00 217.93L209.13 197.16L221.52 193.15" fill="none" stroke="#000" stroke-width="0.95" />
<path d="M136.01 218.16L145.00 217.93L209.13 197.16" fill="none" stroke="#222" stroke-width="1.80" />
<path d="M70.62 6.92C71.08 11.54 72.39 25.85 73.38 34.62C74.38 43.38 75.88 53.77 76.57 59.54C77.26 65.31 77.56 65.31 77.54 69.23C77.52 73.15 76.85 77.31 76.43 83.08C76.02 88.85 75.32 96.02 75.05 103.85C74.77 111.67 74.74 125.62 74.77 130.02C74.80 134.41 74.76 126.93 75.24 130.19C75.73 133.46 76.86 144.63 77.67 149.63C78.48 154.62 78.89 156.91 80.10 160.15C81.32 163.39 83.07 165.96 84.96 169.06C86.85 172.16 89.85 176.13 91.44 178.78C93.02 181.42 92.75 181.72 94.47 184.93C96.19 188.14 99.70 194.89 101.76 198.05C103.83 201.21 104.80 202.06 106.86 203.88C108.93 205.70 111.48 207.52 114.15 208.98C116.82 210.44 119.98 211.71 122.90 212.62C125.81 213.54 128.97 214.20 131.64 214.45C134.31 214.69 136.62 214.45 138.93 214.08C141.24 213.72 143.54 212.81 145.49 212.26C147.43 211.71 149.74 211.05 150.59 210.80" fill="none" stroke="#000" stroke-width="0.95" />
<path d="M150.59 210.80L220.06 186.23" fill="none" stroke="#000" stroke-width="0.95" />
<path d="M71.19 148.01C71.60 149.49 72.41 153.95 73.62 156.91C74.84 159.88 76.46 162.31 78.48 165.82C80.51 169.33 83.47 173.81 85.77 177.97C88.07 182.12 89.99 186.56 92.29 190.76C94.59 194.96 97.39 199.99 99.58 203.15C101.76 206.31 103.22 207.77 105.41 209.71C107.59 211.65 110.02 213.41 112.69 214.81C115.36 216.21 118.77 217.30 121.44 218.09C124.11 218.88 126.30 219.37 128.73 219.55C131.15 219.73 133.83 219.51 136.01 219.18C138.20 218.85 140.87 217.85 141.84 217.58" fill="none" stroke="#000" stroke-width="0.95" />
<path d="M89.82 137.48C89.89 138.97 89.68 143.28 90.22 146.39C90.76 149.49 91.91 153.14 93.06 156.11C94.20 159.07 95.35 161.23 97.11 164.20C98.86 167.17 101.42 170.68 103.58 173.92C105.74 177.16 108.54 181.07 110.06 183.64C111.58 186.20 111.89 187.45 112.69 189.30C113.50 191.16 114.51 193.86 114.88 194.77" fill="none" stroke="#000" stroke-width="0.95" />
<path d="M76.43 6.92C76.85 10.38 78.28 21.92 78.92 27.69C79.57 33.46 79.62 36.92 80.31 41.54C81.00 46.15 81.69 49.85 83.08 55.38C84.46 60.92 86.77 67.85 88.62 74.77C90.46 81.69 92.77 90.92 94.15 96.92C95.54 102.92 95.89 105.22 96.92 110.77C97.96 116.31 99.10 123.58 100.34 130.19C101.59 136.81 103.18 143.96 104.39 150.44C105.61 156.91 106.42 163.26 107.63 169.06C108.85 174.86 110.59 181.64 111.68 185.26C112.77 188.87 112.89 188.51 114.15 190.76C115.41 193.02 117.31 196.35 119.25 198.78C121.19 201.21 123.26 203.51 125.81 205.34C128.36 207.16 131.64 208.68 134.56 209.71C137.47 210.74 140.87 211.29 143.30 211.53C145.73 211.77 148.16 211.23 149.13 211.17" fill="none" stroke="#000" stroke-width="0.95" />
<path d="M82.80 29.77C83.08 32.19 83.49 38.88 84.46 44.31C85.43 49.73 87.00 56.77 88.62 62.31C90.23 67.85 92.54 72.23 94.15 77.54C95.77 82.85 96.92 88.62 98.31 94.15C99.69 99.69 100.91 104.09 102.46 110.77C104.02 117.45 106.10 126.96 107.63 134.24C109.17 141.53 110.47 148.41 111.68 154.49C112.89 160.56 113.70 165.96 114.92 170.68C116.13 175.40 118.00 179.60 118.97 182.83C119.93 186.05 119.57 187.62 120.71 190.03C121.85 192.45 123.99 195.26 125.81 197.32C127.63 199.39 129.70 201.09 131.64 202.42C133.58 203.76 135.28 204.55 137.47 205.34C139.66 206.13 142.57 206.92 144.76 207.16C146.94 207.40 149.62 206.85 150.59 206.79" fill="none" stroke="#000" stroke-width="0.95" />
<path d="M150.59 206.79L159.58 203.94L220.79 183.31" fill="none" stroke="#000" stroke-width="0.95" />
<path d="M82.80 29.77C84.00 31.73 87.88 37.73 90.00 41.54C92.12 45.35 93.92 48.00 95.54 52.62C97.15 57.23 98.31 63.69 99.69 69.23C101.08 74.77 102.81 81.23 103.85 85.85C104.88 90.46 104.77 94.15 105.92 96.92C107.08 99.69 109.27 100.62 110.77 102.46C112.27 104.31 114.05 106.38 114.92 108.00C115.80 109.62 116.15 110.54 116.03 112.15C115.92 113.77 114.65 115.85 114.23 117.69C113.82 119.54 113.65 122.31 113.54 123.23" fill="none" stroke="#000" stroke-width="0.95" />
<path d="M78.92 27.28L157.41 41.54" fill="none" stroke="#000" stroke-width="0.95" />
<path d="M157.41 41.30C157.37 40.62 156.90 38.87 157.17 37.25C157.44 35.63 158.11 33.33 159.03 31.58C159.95 29.82 160.72 28.00 162.67 26.72C164.63 25.44 167.53 24.63 170.77 23.89C174.01 23.14 178.87 22.54 182.11 22.27C185.34 22.00 187.77 22.00 190.20 22.27C192.63 22.54 194.79 23.14 196.68 23.89C198.57 24.63 199.92 25.51 201.54 26.72C203.16 27.94 205.59 30.43 206.40 31.17" fill="none" stroke="#000" stroke-width="0.95" />
<path d="M160.24 41.30C160.31 40.49 160.31 37.99 160.65 36.44C160.99 34.89 161.52 33.27 162.27 31.98C163.01 30.70 163.41 29.62 165.10 28.74C166.79 27.87 169.28 27.40 172.39 26.72C175.49 26.05 180.76 24.97 183.72 24.70C186.69 24.43 188.65 24.76 190.20 25.10C191.75 25.44 192.36 25.78 193.04 26.72C193.71 27.67 194.18 29.15 194.25 30.77C194.32 32.39 193.98 34.68 193.44 36.44C192.90 38.19 191.42 40.49 191.01 41.30" fill="none" stroke="#000" stroke-width="0.95" />
<path d="M191.82 22.67C192.50 23.08 194.93 24.02 195.87 25.10C196.82 26.18 197.19 27.67 197.49 29.15C197.79 30.63 197.79 31.98 197.65 34.01C197.52 36.03 196.84 40.08 196.68 41.30" fill="none" stroke="#000" stroke-width="0.95" />
<path d="M196.68 23.89C197.15 24.36 198.77 25.30 199.51 26.72C200.26 28.14 200.73 30.77 201.13 32.39C201.54 34.01 201.81 35.76 201.94 36.44" fill="none" stroke="#000" stroke-width="0.95" />
<path d="M201.94 36.44L206.40 36.44" fill="none" stroke="#000" stroke-width="0.95" />
<path d="M157.41 41.54L220.16 41.54" fill="none" stroke="#000" stroke-width="0.95" />
<path d="M159.03 42.11L169.15 51.01L214.49 60.32" fill="none" stroke="#000" stroke-width="0.95" />
<path d="M169.15 51.42C169.96 52.16 171.85 54.45 174.01 55.87C176.17 57.29 175.36 57.96 182.11 59.92C188.85 61.88 209.10 66.33 214.49 67.61" fill="none" stroke="#000" stroke-width="0.95" />
<path d="M193.04 46.15C194.93 45.61 203.83 45.75 206.40 46.15C208.96 46.56 208.15 47.10 208.42 48.58C208.69 50.07 208.62 53.87 208.02 55.06C207.41 56.25 206.26 56.05 204.78 55.71C203.29 55.37 200.73 54.09 199.11 53.04C197.49 51.98 196.07 50.54 195.06 49.39C194.05 48.25 191.15 46.69 193.04 46.15Z" fill="none" stroke="#000" stroke-width="0.95" />
<path d="M173.08 84.46C173.38 82.66 173.61 80.24 174.88 79.20C176.15 78.16 176.84 77.70 180.69 78.23C184.55 78.76 194.88 81.12 198.00 82.38C201.12 83.65 199.50 84.35 199.38 85.85C199.27 87.35 198.58 89.77 197.31 91.38C196.04 93.00 193.50 94.68 191.77 95.54C190.04 96.39 189.69 96.74 186.92 96.51C184.15 96.28 177.46 95.24 175.15 94.15C172.85 93.07 173.42 91.62 173.08 90.00C172.73 88.38 172.78 86.26 173.08 84.46Z" fill="none" stroke="#000" stroke-width="0.95" />
<path d="M176.54 84.74C176.93 83.52 175.62 81.39 178.62 81.28C181.62 81.16 191.65 83.12 194.54 84.05C197.42 84.97 196.04 85.71 195.92 86.82C195.81 87.92 195.00 89.58 193.85 90.69C192.69 91.80 191.65 93.35 189.00 93.46C186.35 93.58 180.05 92.19 177.92 91.38C175.80 90.58 176.49 89.72 176.26 88.62C176.03 87.51 176.15 85.96 176.54 84.74Z" fill="none" stroke="#000" stroke-width="0.95" />
<path d="M177.23 86.82L192.46 90.00" fill="none" stroke="#000" stroke-width="0.95" />
<path d="M203.97 5.26L206.80 9.31L206.64 24.29L206.56 41.30" fill="none" stroke="#000" stroke-width="0.95" />
<path d="M208.02 5.26L212.47 12.96L212.47 24.29L211.26 41.30" fill="none" stroke="#000" stroke-width="0.95" />
<path d="M212.87 5.26C213.48 6.55 215.57 10.46 216.52 12.96C217.46 15.45 218.07 17.27 218.54 20.24C219.01 23.21 219.15 27.26 219.35 30.77C219.55 34.28 219.69 39.54 219.76 41.30" fill="none" stroke="#000" stroke-width="0.95" />
<path d="M237.98 5.26L219.35 30.77" fill="none" stroke="#000" stroke-width="0.95" />
<path d="M233.93 18.62L219.76 38.06" fill="none" stroke="#000" stroke-width="0.95" />
<path d="M234.33 19.03C233.45 22.60 230.62 34.48 229.07 40.49C227.52 46.49 226.10 52.16 225.02 55.06C223.94 57.96 223.00 57.42 222.59 57.89" fill="none" stroke="#000" stroke-width="0.95" />
<path d="M226.64 32.39L220.16 44.13L219.76 52.63L221.78 51.82Z" fill="none" stroke="#000" stroke-width="0.95" />
<path d="M219.46 40.85C219.00 41.42 217.34 40.73 216.69 44.31C216.05 47.88 215.86 56.77 215.58 62.31C215.31 67.85 214.85 72.92 215.03 77.54C215.22 82.15 215.72 85.38 216.69 90.00C217.66 94.62 219.23 100.15 220.85 105.23C222.46 110.31 225.46 117.92 226.38 120.46" fill="none" stroke="#000" stroke-width="0.95" />
<path d="M219.46 47.08C220.15 50.08 222.35 59.08 223.62 65.08C224.88 71.08 226.15 76.38 227.08 83.08C228.00 89.77 228.69 99.46 229.15 105.23C229.62 111.00 229.15 114.81 229.85 117.69C230.54 120.58 233.42 121.50 233.31 122.54C233.19 123.58 231.23 123.81 229.15 123.92C227.08 124.04 222.23 123.35 220.85 123.23" fill="none" stroke="#000" stroke-width="0.95" />
<path d="M95.54 101.35C98.08 101.26 103.62 100.50 110.77 100.80C117.92 101.10 128.42 101.95 138.46 103.15C148.50 104.35 162.12 106.50 171.00 108.00C179.89 109.50 185.31 110.54 191.77 112.15C198.23 113.77 204.92 115.85 209.77 117.69C214.62 119.54 219.00 122.31 220.85 123.23" fill="none" stroke="#000" stroke-width="0.95" />
<path d="M128.77 116.03C135.81 116.82 160.50 119.54 171.00 120.74C181.50 121.94 185.65 121.68 191.77 123.23C197.88 124.78 204.00 128.08 207.69 130.02C211.38 131.95 212.08 132.89 213.92 134.85C215.77 136.81 217.96 140.62 218.77 141.77" fill="none" stroke="#000" stroke-width="0.95" />
<path d="M216.54 79.38C216.97 78.71 218.16 77.90 218.97 77.77C219.78 77.63 220.59 77.63 221.40 78.57C222.21 79.52 223.08 81.54 223.83 83.43C224.57 85.32 225.58 88.36 225.85 89.91C226.12 91.46 226.05 92.14 225.45 92.74C224.84 93.35 223.29 93.76 222.21 93.55C221.13 93.35 219.78 92.68 218.97 91.53C218.16 90.38 217.78 88.29 217.35 86.67C216.92 85.05 216.51 83.03 216.38 81.81C216.24 80.60 216.11 80.06 216.54 79.38Z" fill="none" stroke="#000" stroke-width="0.95" />
<path d="M219.78 80.19C219.64 80.73 218.97 82.08 218.97 83.43C218.97 84.78 219.24 86.87 219.78 88.29C220.32 89.71 221.80 91.33 222.21 91.94" fill="none" stroke="#000" stroke-width="0.95" />
<path d="M229.15 123.92C229.15 124.94 229.04 128.66 229.15 130.02C229.27 131.37 229.04 130.93 229.85 132.08C230.65 133.23 233.19 134.73 234.00 136.92C234.81 139.12 234.58 143.85 234.69 145.23" fill="none" stroke="#000" stroke-width="0.95" />
<path d="M252.69 5.26C251.08 7.38 245.54 13.11 243.00 18.00C240.46 22.89 239.19 28.85 237.46 34.62C235.73 40.38 233.65 48.00 232.62 52.62C231.58 57.23 231.12 58.38 231.23 62.31C231.35 66.23 232.50 70.38 233.31 76.15C234.12 81.92 235.38 90.00 236.08 96.92C236.77 103.85 237.12 112.18 237.46 117.69C237.81 123.21 237.97 125.66 238.15 130.02C238.34 134.37 238.56 139.85 238.57 143.85C238.58 147.84 238.09 150.84 238.21 154.00C238.33 157.16 238.70 159.87 239.31 162.81C239.92 165.74 240.84 169.05 241.88 171.61C242.92 174.18 244.20 176.45 245.55 178.22C246.90 179.99 249.22 181.58 249.95 182.26" fill="none" stroke="#000" stroke-width="0.95" />
<path d="M249.95 182.26L291.94 197.67" fill="none" stroke="#000" stroke-width="0.95" />
<path d="M258.51 6.65C256.85 8.77 251.12 15.88 248.54 19.38C245.95 22.89 244.62 24.00 243.00 27.69C241.38 31.38 240.18 36.92 238.85 41.54C237.51 46.15 235.55 51.46 234.97 55.38C234.39 59.31 234.74 60.46 235.38 65.08C236.03 69.69 238.04 76.62 238.85 83.08C239.65 89.54 239.77 96.02 240.23 103.85C240.69 111.67 241.34 123.35 241.62 130.02C241.89 136.68 241.79 139.85 241.89 143.85C242.00 147.84 241.94 150.72 242.25 154.00C242.55 157.28 243.04 160.73 243.72 163.54C244.39 166.35 245.37 168.80 246.28 170.88C247.20 172.96 248.00 174.55 249.22 176.02C250.44 177.49 252.03 178.71 253.62 179.69C255.21 180.67 257.91 181.52 258.76 181.89" fill="none" stroke="#000" stroke-width="0.95" />
<path d="M258.76 181.89L292.16 193.63" fill="none" stroke="#000" stroke-width="0.95" />
<path d="M269.03 4.98L241.62 42.92" fill="none" stroke="#000" stroke-width="0.95" />
<path d="M244.38 22.15C243.81 24.23 241.62 31.04 240.92 34.62C240.23 38.19 240.35 42.12 240.23 43.62" fill="none" stroke="#000" stroke-width="0.95" />
<path d="M249.59 182.77C249.16 183.24 247.72 184.67 247.02 185.56C246.32 186.45 245.59 187.46 245.40 188.13C245.22 188.80 245.40 189.17 245.92 189.60C246.43 190.02 248.06 190.51 248.49 190.70" fill="none" stroke="#000" stroke-width="0.95" />
<path d="M248.49 190.70L290.69 206.70" fill="none" stroke="#000" stroke-width="0.95" />
<path d="M240.23 43.62L248.54 42.92L283.15 43.62" fill="none" stroke="#000" stroke-width="0.95" />
<path d="M249.23 43.34C251.19 45.35 257.19 51.30 261.00 55.38C264.81 59.47 269.77 64.62 272.08 67.85C274.38 71.08 274.62 71.31 274.85 74.77C275.08 78.23 274.62 83.31 273.46 88.62C272.31 93.92 269.77 102.23 267.92 106.62C266.08 111.00 264.23 112.85 262.38 114.92C260.54 117.00 258.81 118.15 256.85 119.08C254.88 120.00 251.65 120.23 250.62 120.46" fill="none" stroke="#000" stroke-width="0.95" />
<path d="M250.62 120.46L288.69 117.42" fill="none" stroke="#000" stroke-width="0.95" />
<path d="M250.62 120.46C250.62 122.05 250.55 127.04 250.62 130.02C250.68 132.99 250.59 134.31 251.03 138.31C251.47 142.31 252.09 149.92 253.26 154.00C254.42 158.08 256.38 159.63 258.03 162.81C259.68 165.99 262.00 171.06 263.17 173.08C264.33 175.10 264.02 174.31 265.00 174.92C265.98 175.53 268.36 176.45 269.04 176.75" fill="none" stroke="#000" stroke-width="0.95" />
<path d="M269.04 176.75L292.52 185.71" fill="none" stroke="#000" stroke-width="0.95" />
<path d="M291.18 37.66C289.62 38.88 284.26 42.51 281.77 45.00C279.28 47.49 277.50 50.54 276.23 52.62C274.96 54.69 274.15 55.85 274.15 57.46C274.15 59.08 274.04 59.77 276.23 62.31C278.42 64.85 285.46 70.96 287.31 72.69" fill="none" stroke="#000" stroke-width="0.95" />
<path d="M106.50 170.16C107.63 170.36 111.36 170.65 113.30 171.33C115.24 172.01 116.54 173.19 118.16 174.24C119.78 175.30 121.23 177.00 123.02 177.64C124.80 178.29 122.37 179.67 128.85 178.13C135.32 176.59 155.40 170.84 161.88 168.41C168.36 165.98 165.52 165.50 167.71 163.55C169.90 161.61 173.08 158.28 175.02 156.72C176.95 155.17 176.52 155.22 179.31 154.23C182.10 153.24 187.38 151.35 191.77 150.77C196.15 150.19 201.69 150.19 205.62 150.77C209.54 151.35 212.31 153.65 215.31 154.23C218.31 154.81 221.08 154.81 223.62 154.23C226.15 153.65 228.69 152.27 230.54 150.77C232.38 149.27 234.00 146.15 234.69 145.23" fill="none" stroke="#000" stroke-width="0.95" />
<path d="M123.02 177.64C123.34 177.97 123.66 179.31 124.96 179.59C126.25 179.86 122.45 181.24 130.79 179.30C139.13 177.35 161.61 171.18 175.00 167.93C188.39 164.67 204.44 161.94 211.15 159.77C217.87 157.60 214.62 155.73 215.31 154.92" fill="none" stroke="#000" stroke-width="0.95" />
<path d="M215.31 160.46C215.72 160.81 217.57 161.15 217.80 162.54C218.03 163.92 217.17 166.95 216.69 168.77C216.22 170.59 216.22 170.50 214.96 173.47C213.70 176.44 210.10 184.41 209.13 186.59" fill="none" stroke="#000" stroke-width="0.95" />
<path d="M234.69 145.23C234.81 146.62 235.33 150.41 235.38 153.54C235.44 156.67 235.31 161.04 235.00 164.00C234.69 166.96 234.45 168.86 233.54 171.29C232.63 173.72 231.42 176.63 229.54 178.58C227.65 180.52 223.71 182.16 222.25 182.95C220.79 183.74 221.03 183.25 220.79 183.31" fill="none" stroke="#000" stroke-width="0.95" />
<path d="M124.35 180.19C124.60 181.35 125.08 184.75 125.81 187.12C126.54 189.49 127.75 192.22 128.73 194.41C129.70 196.59 130.18 198.41 131.64 200.24C133.10 202.06 136.50 204.49 137.47 205.34" fill="none" stroke="#000" stroke-width="0.95" />
<path d="M116.02 133.92L123.50 171.81" fill="none" stroke="#000" stroke-width="0.95" />
<path d="M222.25 183.68C222.98 184.53 224.50 187.26 226.62 188.78C228.75 190.30 234.54 192.59 235.00 192.79C235.47 192.98 229.24 189.94 229.40 189.96C229.57 189.98 234.91 192.41 236.01 192.90" fill="none" stroke="#000" stroke-width="0.95" />
<path d="M236.01 192.90L292.16 215.80" fill="none" stroke="#000" stroke-width="0.95" />
<path d="M229.90 178.94C230.20 179.85 230.87 182.89 231.72 184.41C232.57 185.92 234.41 187.37 235.00 188.05C235.59 188.73 234.68 187.93 235.28 188.50C235.87 189.06 238.03 190.94 238.58 191.43" fill="none" stroke="#000" stroke-width="0.95" />
<path d="M220.79 183.31L221.52 193.15" fill="none" stroke="#000" stroke-width="0.95" />
<path d="M188.73 200.44L221.16 189.14" fill="none" stroke="#000" stroke-width="0.95" />
<path d="M167.59 211.37C168.44 212.46 170.63 215.92 172.69 217.93C174.76 219.93 177.95 222.29 179.98 223.39C182.01 224.50 181.73 224.33 184.85 224.57C187.96 224.81 194.08 224.85 198.69 224.85C203.31 224.85 209.08 225.15 212.54 224.57C216.00 223.99 217.15 223.07 219.46 221.38C221.77 219.70 224.77 216.54 226.38 214.46C228.00 212.38 228.69 209.85 229.15 208.92" fill="none" stroke="#000" stroke-width="0.95" />
<path d="M209.13 198.98C208.77 200.44 208.16 204.81 206.94 207.73C205.73 210.64 203.91 214.04 201.84 216.47C199.78 218.90 196.26 221.05 194.56 222.30C192.86 223.55 192.13 223.70 191.64 223.98" fill="none" stroke="#000" stroke-width="0.95" />
<path d="M213.50 202.99C213.02 204.39 212.05 208.64 210.59 211.37C209.13 214.10 206.70 217.28 204.76 219.39C202.81 221.49 199.90 223.21 198.93 223.98" fill="none" stroke="#000" stroke-width="0.95" />
<path d="M220.43 205.54C219.76 207.00 218.06 211.73 216.42 214.28C214.78 216.83 212.41 219.23 210.59 220.84C208.77 222.46 206.34 223.45 205.49 223.98" fill="none" stroke="#000" stroke-width="0.95" />
<path d="M224.43 209.18C223.83 210.40 222.37 214.28 220.79 216.47C219.21 218.66 215.93 221.33 214.96 222.30" fill="none" stroke="#000" stroke-width="0.95" />
<path d="M228.81 209.91C228.20 211.00 226.99 214.28 225.16 216.47C223.34 218.66 219.09 221.94 217.88 223.03" fill="none" stroke="#000" stroke-width="0.95" />
<path d="M177.07 208.09C177.55 208.51 178.77 210.03 179.98 210.64C181.19 211.25 182.90 211.86 184.35 211.73C185.81 211.61 187.39 211.19 188.73 209.91C190.06 208.64 191.76 205.05 192.37 204.08" fill="none" stroke="#000" stroke-width="0.95" />
<path d="M78.64 129.95L83.34 129.55L92.57 128.25L92.81 134.57L89.82 135.62L85.77 134.24L82.94 132.62L78.72 131.73Z" fill="none" stroke="#000" stroke-width="0.95" />
<path d="M86.95 78.23C86.88 83.65 86.26 104.42 86.54 110.77C86.82 117.12 87.12 115.04 88.62 116.31C90.11 117.58 94.16 117.46 95.52 118.37C96.88 119.28 96.81 120.72 96.78 121.77C96.75 122.83 96.86 123.88 95.32 124.69C93.79 125.50 88.85 126.31 87.55 126.63" fill="none" stroke="#000" stroke-width="0.95" />
<path d="M87.06 114.00C87.23 114.32 87.23 115.38 88.04 115.94C88.85 116.51 91.28 117.16 91.92 117.40" fill="none" stroke="#000" stroke-width="0.95" />
<ellipse cx="92.89" cy="120.80" rx="2.14" ry="1.75" fill="none" stroke="#000" stroke-width="0.95"/>
<ellipse cx="83.18" cy="124.20" rx="0.68" ry="1.17" fill="#111" stroke="#000" stroke-width="0.30"/>
<ellipse cx="78.51" cy="139.46" rx="0.68" ry="1.17" fill="#111" stroke="#000" stroke-width="0.30"/>
<ellipse cx="85.32" cy="140.23" rx="0.68" ry="1.17" fill="#111" stroke="#000" stroke-width="0.30"/>
<ellipse cx="59.26" cy="64.66" rx="2.35" ry="3.46" fill="none" stroke="#000" stroke-width="0.95"/>
<path d="M76.46 175.63C76.26 176.03 75.42 176.44 75.24 178.06C75.07 179.68 75.07 183.82 75.40 185.34C75.74 186.87 76.15 187.07 77.27 187.21C78.39 187.34 81.18 186.60 82.13 186.15C83.07 185.71 82.80 185.21 82.94 184.53C83.07 183.86 82.94 182.51 82.94 182.11" fill="none" stroke="#000" stroke-width="0.95" />
<path d="M83.74 195.47C83.00 195.60 80.51 195.53 79.29 196.28C78.08 197.02 76.73 198.64 76.46 199.92C76.19 201.20 76.66 203.16 77.67 203.97C78.68 204.78 80.78 204.91 82.53 204.78C84.28 204.64 87.19 204.10 88.20 203.16C89.21 202.21 88.54 199.78 88.60 199.11" fill="none" stroke="#000" stroke-width="0.95" />
<path d="M96.92 206.15C94.15 206.85 83.65 209.04 80.31 210.31C76.96 211.58 77.08 212.62 76.85 213.77C76.62 214.92 75.81 217.35 78.92 217.23C82.04 217.12 92.19 214.12 95.54 213.08C98.88 212.04 98.49 211.92 99.00 211.00C99.51 210.08 98.65 208.12 98.58 207.54" fill="none" stroke="#000" stroke-width="0.95" />
<path d="M95.54 220.00C93.00 220.69 83.42 223.00 80.31 224.15C77.19 225.31 77.08 226.12 76.85 226.92C76.62 227.73 76.04 229.23 78.92 229.00C81.81 228.77 91.38 226.58 94.15 225.54C96.92 224.50 95.31 223.23 95.54 222.77" fill="none" stroke="#000" stroke-width="0.95" />
<ellipse cx="101.08" cy="221.66" rx="2.77" ry="2.22" fill="none" stroke="#000" stroke-width="0.95" transform="rotate(20 101.08 221.66)"/>
<path d="M80.83 150.19L87.06 150.19L88.28 155.13L91.19 160.64L105.20 182.99L99.21 183.96L83.99 161.13L81.72 154.89Z" fill="#a6a6a6" stroke="#000" stroke-width="1.90" stroke-linejoin="miter"/>
<text x="288.69" y="247.28" font-size="12.3" fill="#000" stroke="#000" stroke-width="0.22" style="font-kerning:none" font-family="'Liberation Sans',sans-serif">800203</text>
<rect x="0.5" y="0.5" width="341" height="259" fill="none" stroke="#000" stroke-width="1" shape-rendering="crispEdges"/>
</svg>
<div class="t" style="left:441.30px;top:577.15px;font-size:16.55px;line-height:19.03px;height:19.03px;font-weight:bold;">Certification label</div>
<div class="t" style="left:428.40px;top:608.95px;font-size:18.5px;line-height:21.27px;height:21.27px;width:342.60px;text-align:justify;text-align-last:justify;">To check both GVWR and GAWR and to</div>
<div class="t" style="left:428.40px;top:629.75px;font-size:18.5px;line-height:21.27px;height:21.27px;width:342.60px;text-align:justify;text-align-last:justify;">confirm that the total weight and weight</div>
<div class="t" style="left:428.40px;top:650.55px;font-size:18.5px;line-height:21.27px;height:21.27px;width:342.60px;text-align:justify;text-align-last:justify;">distribution are within safe driving limits,</div>
<div class="t" style="left:428.40px;top:671.35px;font-size:18.5px;line-height:21.27px;height:21.27px;width:342.60px;text-align:justify;text-align-last:justify;">you should have your vehicle and trailer</div>
<div class="t" style="left:428.40px;top:692.15px;font-size:18.5px;line-height:21.27px;height:21.27px;width:342.60px;text-align:justify;text-align-last:justify;">weighed at a commercial weighing sta-</div>
<div class="t" style="left:428.40px;top:712.95px;font-size:18.5px;line-height:21.27px;height:21.27px;width:342.60px;">tion.</div>
<div class="t" style="left:428.40px;top:733.75px;font-size:18.5px;line-height:21.27px;height:21.27px;width:342.60px;text-align:justify;text-align-last:justify;">Be sure that all cargo is firmly secured to</div>
<div class="t" style="left:428.40px;top:754.55px;font-size:18.5px;line-height:21.27px;height:21.27px;width:342.60px;text-align:justify;text-align-last:justify;">prevent a change in weight distribution</div>
<div class="t" style="left:428.40px;top:775.35px;font-size:18.5px;line-height:21.27px;height:21.27px;width:342.60px;">while driving.</div>
<div class="t" style="left:800.40px;top:150.97px;font-size:22.5px;line-height:25.87px;height:25.87px;-webkit-text-stroke:0;transform:scaleX(1.16);transform-origin:0 0;">&#9660;</div>
<div class="t" style="left:828.90px;top:155.01px;font-size:18.55px;line-height:21.33px;height:21.33px;font-weight:bold;">Tongue load</div>
<svg class="fig" style="left:806px;top:191px" width="342" height="259" viewBox="0 0 342 259" stroke-linecap="round" stroke-linejoin="round">
<path d="M127.35 105.90L127.35 17.10Q127.35 10.50 133.95 10.50L268.60 10.50Q274.20 10.60 275.70 15.60L290.50 66.60Q291.40 69.30 289.80 72.00L272.00 99.70L272.00 105.90" fill="none" stroke="#000" stroke-width="1.25" stroke-linejoin="round"/>
<path d="M127.00 105.90L196.00 105.90M236.00 105.90L272.30 105.90" fill="none" stroke="#000" stroke-width="1.3"/>
<path d="M127.50 99.40L196.00 99.40M236.00 99.40L272.00 99.40" fill="none" stroke="#000" stroke-width="0.8"/>
<path d="M197.10 86.20L235.00 86.20L236.60 106.60L195.50 106.60Z" fill="#000" stroke="none"/>
<circle cx="216.30" cy="104.80" r="17.1" fill="#fff"/>
<circle cx="216.30" cy="104.80" r="11.7" fill="#fff" stroke="#000" stroke-width="5.2"/>
<path d="M136.40 105.50L136.40 25.20Q136.40 22.30 139.30 22.30" fill="none" stroke="#000" stroke-width="1"/>
<path d="M139.30 22.30L156.60 22.30" fill="none" stroke="#888" stroke-width="0.9"/>
<path d="M156.60 22.30Q159.50 22.30 159.50 25.20L159.50 105.50" fill="none" stroke="#000" stroke-width="1"/>
<rect x="139.60" y="30.30" width="16.2" height="27.3" rx="3" fill="none" stroke="#111" stroke-width="0.95"/>
<ellipse cx="141.50" cy="71.50" rx="2.1" ry="2.3" fill="none" stroke="#555" stroke-width="1"/>
<rect x="213.30" y="30.70" width="45.4" height="27.9" rx="4" fill="none" stroke="#000" stroke-width="1"/>
<path d="M235.70 30.70L235.70 58.60" fill="none" stroke="#666" stroke-width="0.8"/>
<path d="M97.97 89.10L102.02 89.10L104.45 90.32L115.38 100.03L126.96 100.03L126.96 105.70L114.97 105.70L102.83 94.36L100.40 92.99L97.97 92.74Z" fill="#000" stroke="#000" stroke-width="0.30" />
<path d="M87.04 89.10L97.97 89.10L97.97 92.74L87.04 92.74Z" fill="#000" stroke="#000" stroke-width="0.30" />
<path d="M93.92 85.05L97.97 85.05L97.97 113.39L93.92 113.39Z" fill="#000" stroke="#000" stroke-width="0.30" />
<path d="M93.92 112.83L97.97 112.83L104.61 119.55L87.28 119.55Z" fill="#000" stroke="#000" stroke-width="0.30" />
<path d="M88.7 126.4H45.5V119.4H142.4V126.4H99.4M88.7 126.4V141.7M99.4 126.4V141.7" fill="none" stroke="#000" stroke-width="1" stroke-linecap="butt" stroke-linejoin="miter"/>
<rect x="41.6" y="141.7" width="102.7" height="105.6" fill="none" stroke="#000" stroke-width="1"/>
<ellipse cx="92.76" cy="194.49" rx="43.45" ry="43.45" fill="none" stroke="#000" stroke-width="0.80"/>
<path d="M92.76 164.40L92.76 158.27" fill="none" stroke="#000" stroke-width="1.40" />
<path d="M114.03 173.21L118.36 168.88" fill="none" stroke="#000" stroke-width="1.40" />
<path d="M123.95 194.49L128.41 194.49" fill="none" stroke="#000" stroke-width="0.70" />
<path d="M114.03 215.76L118.36 220.09" fill="none" stroke="#000" stroke-width="1.40" />
<path d="M92.76 224.57L92.76 230.70" fill="none" stroke="#000" stroke-width="1.40" />
<path d="M71.48 215.76L67.15 220.09" fill="none" stroke="#000" stroke-width="1.40" />
<path d="M61.56 194.49L57.10 194.49" fill="none" stroke="#000" stroke-width="0.70" />
<path d="M71.48 173.21L67.15 168.88" fill="none" stroke="#000" stroke-width="1.40" />
<path d="M89.69 194.21L107.24 169.14L95.26 197.83Z" fill="#111" stroke="#000" stroke-width="0.60" />
<ellipse cx="91.92" cy="195.88" rx="3.06" ry="3.06" fill="#111" stroke="#000" stroke-width="0.50"/>
<path d="M157.10 120.45L297.90 120.45" fill="none" stroke="#000" stroke-width="0.9"/>
<path d="M168.46 121.00L157.16 131.60M176.56 121.00L165.26 131.60M184.65 121.00L173.35 131.60M192.75 121.00L181.45 131.60M200.85 121.00L189.55 131.60M208.95 121.00L197.65 131.60M217.04 121.00L205.74 131.60M225.14 121.00L213.84 131.60M233.24 121.00L221.94 131.60M241.33 121.00L230.03 131.60M249.43 121.00L238.13 131.60M257.53 121.00L246.23 131.60M265.62 121.00L254.32 131.60M273.72 121.00L262.42 131.60M281.82 121.00L270.52 131.60M289.91 121.00L278.62 131.60" fill="none" stroke="#000" stroke-width="0.9"/>
<text x="287.74" y="245.74" font-size="12.3" fill="#000" stroke="#000" stroke-width="0.22" style="font-kerning:none" font-family="'Liberation Sans',sans-serif">800214</text>
<rect x="0.5" y="0.5" width="341" height="258" fill="none" stroke="#000" stroke-width="1" shape-rendering="crispEdges"/>
</svg>
<div class="t" style="left:816.40px;top:456.05px;font-size:16.55px;line-height:19.03px;height:19.03px;font-weight:bold;">Tongue load</div>
<div class="box" style="left:804px;top:495px;width:341px;height:34px;border:2px solid #000;background:#e5e5e5;"></div>
<svg class="fig" style="left:908px;top:498px" width="32" height="28" viewBox="0 0 32 28"><path d="M15.72 0.6L31.0 26.95H0.8Z" fill="#1a1718"/><path d="M15.72 3.4L28.6 25.6H2.9Z" fill="#000"/><path d="M12.9 8.7Q12.7 6.7 15.8 6.7Q18.9 6.7 18.7 8.7L16.45 20.7H15.15Z" fill="#fff"/><ellipse cx="15.8" cy="23.85" rx="1.7" ry="1.35" fill="#fff"/></svg>
<div class="t" style="left:939.00px;top:500.41px;font-size:20.5px;line-height:23.57px;height:23.57px;font-weight:bold;color:#1c1a1a;-webkit-text-stroke:0;">WARNING</div>
<div class="box" style="left:803px;top:535px;width:342px;height:195px;border:1px solid #000;background:#e5e5e5;"></div>
<div class="t" style="left:815.00px;top:536.75px;font-size:18.5px;line-height:21.27px;height:21.27px;width:318.00px;font-weight:bold;text-align:justify;text-align-last:justify;">If the trailer is loaded with more</div>
<div class="t" style="left:815.00px;top:557.45px;font-size:18.5px;line-height:21.27px;height:21.27px;width:318.00px;font-weight:bold;text-align:justify;text-align-last:justify;">weight in the back of trailer&#8217;s axle</div>
<div class="t" style="left:815.00px;top:578.15px;font-size:18.5px;line-height:21.27px;height:21.27px;width:318.00px;font-weight:bold;text-align:justify;text-align-last:justify;word-spacing:-0.848px;text-align:left;text-align-last:left;">than in the front, the load is taken off</div>
<div class="t" style="left:815.00px;top:598.85px;font-size:18.5px;line-height:21.27px;height:21.27px;width:318.00px;font-weight:bold;text-align:justify;text-align-last:justify;">the rear axle of the towing vehicle.</div>
<div class="t" style="left:815.00px;top:619.55px;font-size:18.5px;line-height:21.27px;height:21.27px;width:318.00px;font-weight:bold;text-align:justify;text-align-last:justify;">This may cause the rear wheels to</div>
<div class="t" style="left:815.00px;top:640.25px;font-size:18.5px;line-height:21.27px;height:21.27px;width:318.00px;font-weight:bold;text-align:justify;text-align-last:justify;">skid, especially during braking or</div>
<div class="t" style="left:815.00px;top:660.95px;font-size:18.5px;line-height:21.27px;height:21.27px;width:318.00px;font-weight:bold;text-align:justify;text-align-last:justify;">when vehicle speed is reduced dur-</div>
<div class="t" style="left:815.00px;top:681.65px;font-size:18.5px;line-height:21.27px;height:21.27px;width:318.00px;font-weight:bold;text-align:justify;text-align-last:justify;">ing cornering, resulting in over-</div>
<div class="t" style="left:815.00px;top:702.35px;font-size:18.5px;line-height:21.27px;height:21.27px;width:296.72px;font-weight:bold;text-align:justify;text-align-last:justify;">steer, spin out and/or jackknifing.</div>
<div class="t" style="left:803.60px;top:737.25px;font-size:18.5px;line-height:21.27px;height:21.27px;width:342.60px;text-align:justify;text-align-last:justify;">Ensure that the trailer tongue load is from</div>
<div class="t" style="left:803.60px;top:757.85px;font-size:18.5px;line-height:21.27px;height:21.27px;width:342.60px;text-align:justify;text-align-last:justify;">8 to 11 percent of the total trailer weight</div>
<div class="t" style="left:803.60px;top:778.45px;font-size:18.5px;line-height:21.27px;height:21.27px;width:342.60px;text-align:justify;text-align-last:justify;">and does not exceed the appropriate one</div>
<div class="t" style="left:803.60px;top:799.05px;font-size:18.5px;line-height:21.27px;height:21.27px;width:273.28px;text-align:justify;text-align-last:justify;">of the following maximum values:</div>
</div>
</body>
</html>
